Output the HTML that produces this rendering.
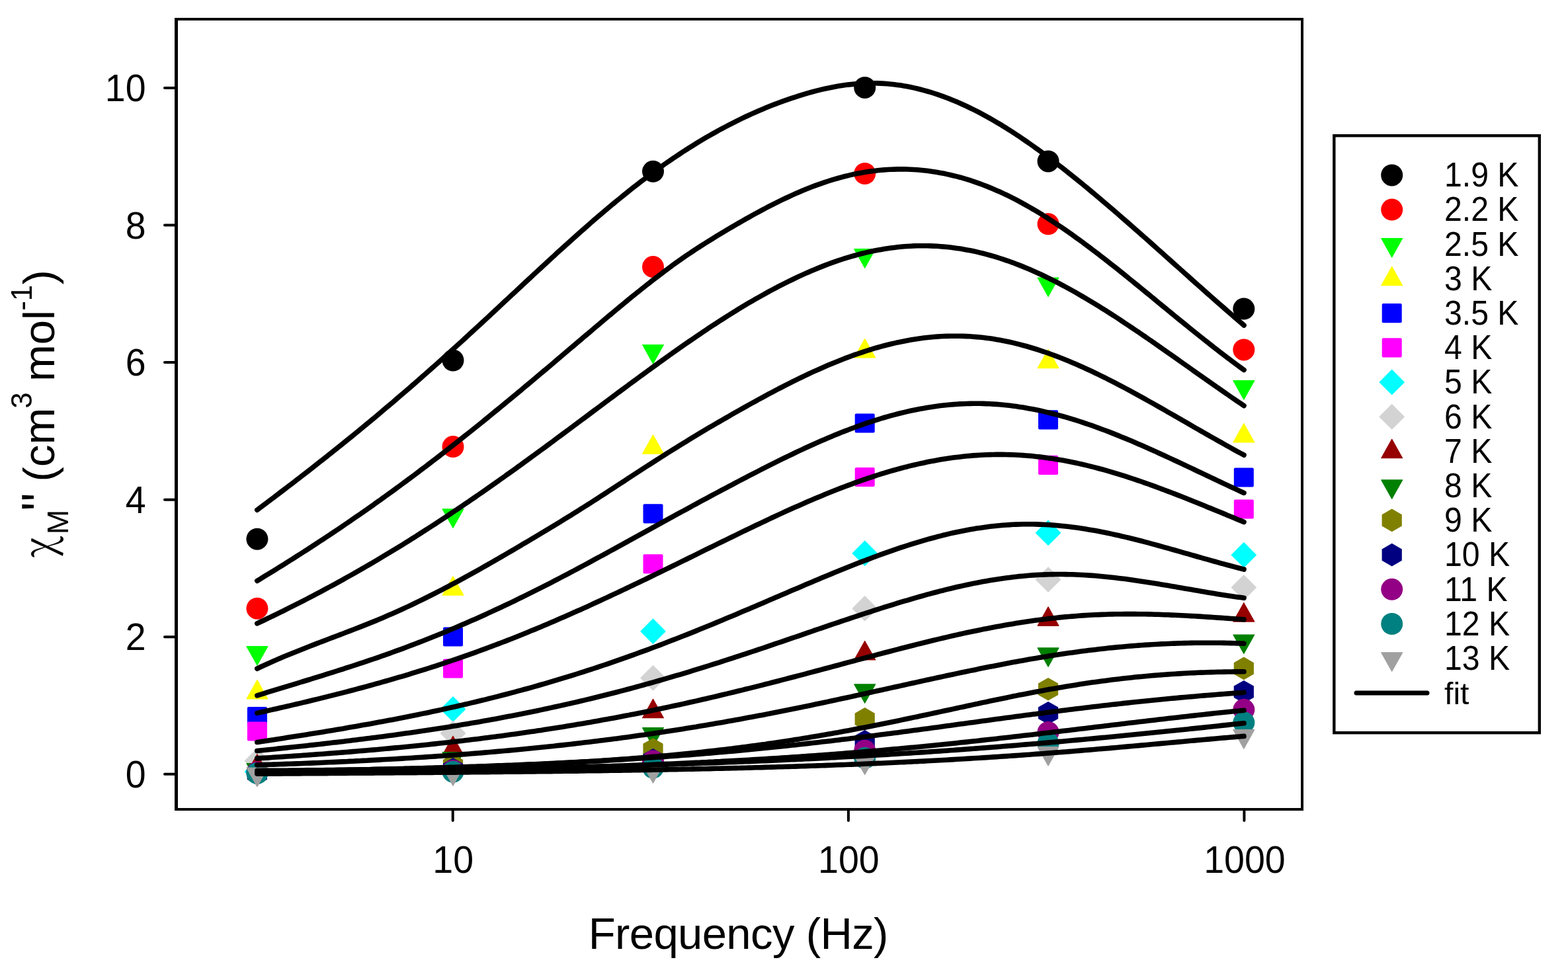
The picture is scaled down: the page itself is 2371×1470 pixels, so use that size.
<!DOCTYPE html>
<html><head><meta charset="utf-8"><title>chi M double prime vs frequency</title>
<style>html,body{margin:0;padding:0;background:#fff;}svg{display:block;}</style>
</head><body>
<svg xmlns="http://www.w3.org/2000/svg" width="2371" height="1470" viewBox="0 0 2371 1470">
<rect x="0" y="0" width="2371" height="1470" fill="#fff"/>
<g>
<circle cx="388.9" cy="815.2" r="16.5" fill="#000000"/>
<circle cx="685.0" cy="545.0" r="16.5" fill="#000000"/>
<circle cx="987.5" cy="259.3" r="16.5" fill="#000000"/>
<circle cx="1307.7" cy="132.4" r="16.5" fill="#000000"/>
<circle cx="1585.0" cy="243.9" r="16.5" fill="#000000"/>
<circle cx="1880.8" cy="467.1" r="16.5" fill="#000000"/>
<circle cx="388.9" cy="920.2" r="16.5" fill="#ff0000"/>
<circle cx="685.0" cy="675.6" r="16.5" fill="#ff0000"/>
<circle cx="987.5" cy="403.6" r="16.5" fill="#ff0000"/>
<circle cx="1307.7" cy="262.5" r="16.5" fill="#ff0000"/>
<circle cx="1585.0" cy="338.8" r="16.5" fill="#ff0000"/>
<circle cx="1880.8" cy="528.9" r="16.5" fill="#ff0000"/>
<path d="M373.0,977.6H404.8L388.9,1006.0Z" fill="#00ff00" stroke="#00ff00" stroke-width="1.2" stroke-linejoin="round"/>
<path d="M669.1,769.9H700.9L685.0,798.3Z" fill="#00ff00" stroke="#00ff00" stroke-width="1.2" stroke-linejoin="round"/>
<path d="M971.6,521.5H1003.4L987.5,549.9Z" fill="#00ff00" stroke="#00ff00" stroke-width="1.2" stroke-linejoin="round"/>
<path d="M1291.8,376.7H1323.6L1307.7,405.1Z" fill="#00ff00" stroke="#00ff00" stroke-width="1.2" stroke-linejoin="round"/>
<path d="M1569.1,420.0H1600.9L1585.0,448.4Z" fill="#00ff00" stroke="#00ff00" stroke-width="1.2" stroke-linejoin="round"/>
<path d="M1864.9,575.7H1896.7L1880.8,604.1Z" fill="#00ff00" stroke="#00ff00" stroke-width="1.2" stroke-linejoin="round"/>
<path d="M373.0,1057.0H404.8L388.9,1028.6Z" fill="#ffff00" stroke="#ffff00" stroke-width="1.2" stroke-linejoin="round"/>
<path d="M669.1,900.1H700.9L685.0,871.7Z" fill="#ffff00" stroke="#ffff00" stroke-width="1.2" stroke-linejoin="round"/>
<path d="M971.6,686.2H1003.4L987.5,657.8Z" fill="#ffff00" stroke="#ffff00" stroke-width="1.2" stroke-linejoin="round"/>
<path d="M1291.8,540.9H1323.6L1307.7,512.5Z" fill="#ffff00" stroke="#ffff00" stroke-width="1.2" stroke-linejoin="round"/>
<path d="M1569.1,556.7H1600.9L1585.0,528.3Z" fill="#ffff00" stroke="#ffff00" stroke-width="1.2" stroke-linejoin="round"/>
<path d="M1864.9,669.0H1896.7L1880.8,640.6Z" fill="#ffff00" stroke="#ffff00" stroke-width="1.2" stroke-linejoin="round"/>
<rect x="373.9" y="1068.9" width="30" height="29.2" rx="2" fill="#0000ff"/>
<rect x="670.0" y="948.4" width="30" height="29.2" rx="2" fill="#0000ff"/>
<rect x="972.5" y="762.2" width="30" height="29.2" rx="2" fill="#0000ff"/>
<rect x="1292.7" y="625.4" width="30" height="29.2" rx="2" fill="#0000ff"/>
<rect x="1570.0" y="620.3" width="30" height="29.2" rx="2" fill="#0000ff"/>
<rect x="1865.8" y="707.4" width="30" height="29.2" rx="2" fill="#0000ff"/>
<rect x="373.9" y="1091.4" width="30" height="29.2" rx="2" fill="#ff00ff"/>
<rect x="670.0" y="996.4" width="30" height="29.2" rx="2" fill="#ff00ff"/>
<rect x="972.5" y="838.2" width="30" height="29.2" rx="2" fill="#ff00ff"/>
<rect x="1292.7" y="706.9" width="30" height="29.2" rx="2" fill="#ff00ff"/>
<rect x="1570.0" y="688.7" width="30" height="29.2" rx="2" fill="#ff00ff"/>
<rect x="1865.8" y="755.4" width="30" height="29.2" rx="2" fill="#ff00ff"/>
<path d="M388.9,1148.4L407.5,1167.0L388.9,1185.6L370.3,1167.0Z" fill="#00ffff" stroke="#00ffff" stroke-width="1.2" stroke-linejoin="round"/>
<path d="M685.0,1054.0L703.6,1072.6L685.0,1091.2L666.4,1072.6Z" fill="#00ffff" stroke="#00ffff" stroke-width="1.2" stroke-linejoin="round"/>
<path d="M987.5,936.2L1006.1,954.8L987.5,973.4L968.9,954.8Z" fill="#00ffff" stroke="#00ffff" stroke-width="1.2" stroke-linejoin="round"/>
<path d="M1307.7,818.2L1326.3,836.8L1307.7,855.4L1289.1,836.8Z" fill="#00ffff" stroke="#00ffff" stroke-width="1.2" stroke-linejoin="round"/>
<path d="M1585.0,787.2L1603.6,805.8L1585.0,824.4L1566.4,805.8Z" fill="#00ffff" stroke="#00ffff" stroke-width="1.2" stroke-linejoin="round"/>
<path d="M1880.8,820.7L1899.4,839.3L1880.8,857.9L1862.2,839.3Z" fill="#00ffff" stroke="#00ffff" stroke-width="1.2" stroke-linejoin="round"/>
<path d="M388.9,1132.1L407.5,1150.7L388.9,1169.3L370.3,1150.7Z" fill="#d3d3d3" stroke="#d3d3d3" stroke-width="1.2" stroke-linejoin="round"/>
<path d="M685.0,1090.4L703.6,1109.0L685.0,1127.6L666.4,1109.0Z" fill="#d3d3d3" stroke="#d3d3d3" stroke-width="1.2" stroke-linejoin="round"/>
<path d="M987.5,1006.7L1006.1,1025.3L987.5,1043.9L968.9,1025.3Z" fill="#d3d3d3" stroke="#d3d3d3" stroke-width="1.2" stroke-linejoin="round"/>
<path d="M1307.7,901.7L1326.3,920.3L1307.7,938.9L1289.1,920.3Z" fill="#d3d3d3" stroke="#d3d3d3" stroke-width="1.2" stroke-linejoin="round"/>
<path d="M1585.0,858.0L1603.6,876.6L1585.0,895.2L1566.4,876.6Z" fill="#d3d3d3" stroke="#d3d3d3" stroke-width="1.2" stroke-linejoin="round"/>
<path d="M1880.8,869.8L1899.4,888.4L1880.8,907.0L1862.2,888.4Z" fill="#d3d3d3" stroke="#d3d3d3" stroke-width="1.2" stroke-linejoin="round"/>
<path d="M373.0,1169.1H404.8L388.9,1140.7Z" fill="#960000" stroke="#960000" stroke-width="1.2" stroke-linejoin="round"/>
<path d="M669.1,1141.7H700.9L685.0,1113.3Z" fill="#960000" stroke="#960000" stroke-width="1.2" stroke-linejoin="round"/>
<path d="M971.6,1085.7H1003.4L987.5,1057.3Z" fill="#960000" stroke="#960000" stroke-width="1.2" stroke-linejoin="round"/>
<path d="M1291.8,997.9H1323.6L1307.7,969.5Z" fill="#960000" stroke="#960000" stroke-width="1.2" stroke-linejoin="round"/>
<path d="M1569.1,946.3H1600.9L1585.0,917.9Z" fill="#960000" stroke="#960000" stroke-width="1.2" stroke-linejoin="round"/>
<path d="M1864.9,940.1H1896.7L1880.8,911.7Z" fill="#960000" stroke="#960000" stroke-width="1.2" stroke-linejoin="round"/>
<path d="M373.0,1154.6H404.8L388.9,1183.0Z" fill="#008000" stroke="#008000" stroke-width="1.2" stroke-linejoin="round"/>
<path d="M669.1,1137.6H700.9L685.0,1166.0Z" fill="#008000" stroke="#008000" stroke-width="1.2" stroke-linejoin="round"/>
<path d="M971.6,1100.7H1003.4L987.5,1129.1Z" fill="#008000" stroke="#008000" stroke-width="1.2" stroke-linejoin="round"/>
<path d="M1291.8,1034.9H1323.6L1307.7,1063.3Z" fill="#008000" stroke="#008000" stroke-width="1.2" stroke-linejoin="round"/>
<path d="M1569.1,979.9H1600.9L1585.0,1008.3Z" fill="#008000" stroke="#008000" stroke-width="1.2" stroke-linejoin="round"/>
<path d="M1864.9,960.0H1896.7L1880.8,988.4Z" fill="#008000" stroke="#008000" stroke-width="1.2" stroke-linejoin="round"/>
<path d="M388.9,1152.7L404.0,1161.3L404.0,1178.7L388.9,1187.3L373.8,1178.7L373.8,1161.3Z" fill="#808000"/>
<path d="M685.0,1140.3L700.1,1148.9L700.1,1166.2L685.0,1174.9L669.9,1166.2L669.9,1148.9Z" fill="#808000"/>
<path d="M987.5,1116.2L1002.6,1124.8L1002.6,1142.2L987.5,1150.8L972.4,1142.2L972.4,1124.8Z" fill="#808000"/>
<path d="M1307.7,1070.1L1322.8,1078.8L1322.8,1096.1L1307.7,1104.7L1292.6,1096.1L1292.6,1078.8Z" fill="#808000"/>
<path d="M1585.0,1025.0L1600.1,1033.6L1600.1,1051.0L1585.0,1059.6L1569.9,1051.0L1569.9,1033.6Z" fill="#808000"/>
<path d="M1880.8,993.6L1895.9,1002.2L1895.9,1019.5L1880.8,1028.2L1865.7,1019.5L1865.7,1002.2Z" fill="#808000"/>
<path d="M388.9,1152.7L404.0,1161.3L404.0,1178.7L388.9,1187.3L373.8,1178.7L373.8,1161.3Z" fill="#000080"/>
<path d="M685.0,1146.1L700.1,1154.8L700.1,1172.1L685.0,1180.7L669.9,1172.1L669.9,1154.8Z" fill="#000080"/>
<path d="M987.5,1131.9L1002.6,1140.5L1002.6,1157.9L987.5,1166.5L972.4,1157.9L972.4,1140.5Z" fill="#000080"/>
<path d="M1307.7,1103.9L1322.8,1112.5L1322.8,1129.9L1307.7,1138.5L1292.6,1129.9L1292.6,1112.5Z" fill="#000080"/>
<path d="M1585.0,1060.9L1600.1,1069.5L1600.1,1086.9L1585.0,1095.5L1569.9,1086.9L1569.9,1069.5Z" fill="#000080"/>
<path d="M1880.8,1029.0L1895.9,1037.6L1895.9,1055.0L1880.8,1063.6L1865.7,1055.0L1865.7,1037.6Z" fill="#000080"/>
<circle cx="388.9" cy="1168.0" r="16.5" fill="#930085"/>
<circle cx="685.0" cy="1165.5" r="16.5" fill="#930085"/>
<circle cx="987.5" cy="1151.0" r="16.5" fill="#930085"/>
<circle cx="1307.7" cy="1135.2" r="16.5" fill="#930085"/>
<circle cx="1585.0" cy="1107.4" r="16.5" fill="#930085"/>
<circle cx="1880.8" cy="1073.3" r="16.5" fill="#930085"/>
<circle cx="388.9" cy="1169.5" r="16.5" fill="#008080"/>
<circle cx="685.0" cy="1167.2" r="16.5" fill="#008080"/>
<circle cx="987.5" cy="1161.0" r="16.5" fill="#008080"/>
<circle cx="1307.7" cy="1146.5" r="16.5" fill="#008080"/>
<circle cx="1585.0" cy="1124.0" r="16.5" fill="#008080"/>
<circle cx="1880.8" cy="1092.7" r="16.5" fill="#008080"/>
<path d="M373.0,1161.2H404.8L388.9,1189.6Z" fill="#a0a0a0" stroke="#a0a0a0" stroke-width="1.2" stroke-linejoin="round"/>
<path d="M669.1,1159.8H700.9L685.0,1188.2Z" fill="#a0a0a0" stroke="#a0a0a0" stroke-width="1.2" stroke-linejoin="round"/>
<path d="M971.6,1155.9H1003.4L987.5,1184.3Z" fill="#a0a0a0" stroke="#a0a0a0" stroke-width="1.2" stroke-linejoin="round"/>
<path d="M1291.8,1143.0H1323.6L1307.7,1171.4Z" fill="#a0a0a0" stroke="#a0a0a0" stroke-width="1.2" stroke-linejoin="round"/>
<path d="M1569.1,1129.6H1600.9L1585.0,1158.0Z" fill="#a0a0a0" stroke="#a0a0a0" stroke-width="1.2" stroke-linejoin="round"/>
<path d="M1864.9,1103.7H1896.7L1880.8,1132.1Z" fill="#a0a0a0" stroke="#a0a0a0" stroke-width="1.2" stroke-linejoin="round"/>
</g>
<g fill="none" stroke="#000" stroke-width="7.6" stroke-linecap="round" stroke-linejoin="round">
<path d="M388.8,771.2 393.8,767.5 398.8,763.7 403.8,760.0 408.8,756.2 413.8,752.5 418.7,748.7 423.7,744.9 428.7,741.1 433.7,737.3 438.7,733.5 443.7,729.7 448.7,725.8 453.7,722.0 458.7,718.1 463.7,714.2 468.7,710.4 473.6,706.5 478.6,702.5 483.6,698.6 488.6,694.7 493.6,690.7 498.6,686.8 503.6,682.8 508.6,678.8 513.6,674.8 518.6,670.8 523.5,666.8 528.5,662.7 533.5,658.7 538.5,654.6 543.5,650.5 548.5,646.4 553.5,642.3 558.5,638.1 563.5,634.0 568.5,629.8 573.5,625.6 578.4,621.4 583.4,617.2 588.4,613.0 593.4,608.8 598.4,604.5 603.4,600.2 608.4,595.9 613.4,591.6 618.4,587.3 623.4,583.0 628.4,578.6 633.3,574.3 638.3,569.9 643.3,565.5 648.3,561.1 653.3,556.7 658.3,552.2 663.3,547.8 668.3,543.3 673.3,538.8 678.3,534.3 683.2,529.8 688.2,525.3 693.2,520.7 698.2,516.2 703.2,511.6 708.2,507.0 713.2,502.4 718.2,497.8 723.2,493.2 728.2,488.6 733.2,484.0 738.1,479.4 743.1,474.7 748.1,470.1 753.1,465.4 758.1,460.8 763.1,456.1 768.1,451.5 773.1,446.8 778.1,442.2 783.1,437.5 788.1,432.9 793.0,428.2 798.0,423.6 803.0,418.9 808.0,414.3 813.0,409.7 818.0,405.1 823.0,400.4 828.0,395.9 833.0,391.3 838.0,386.7 842.9,382.1 847.9,377.6 852.9,373.1 857.9,368.6 862.9,364.1 867.9,359.6 872.9,355.1 877.9,350.7 882.9,346.3 887.9,341.9 892.9,337.5 897.8,333.2 902.8,328.9 907.8,324.6 912.8,320.4 917.8,316.1 922.8,311.9 927.8,307.8 932.8,303.6 937.8,299.6 942.8,295.5 947.8,291.5 952.7,287.5 957.7,283.6 962.7,279.7 967.7,275.8 972.7,272.0 977.7,268.2 982.7,264.5 987.7,260.8 992.7,257.2 997.7,253.6 1002.6,250.0 1007.6,246.5 1012.6,243.1 1017.6,239.7 1022.6,236.3 1027.6,233.0 1032.6,229.7 1037.6,226.5 1042.6,223.3 1047.6,220.2 1052.6,217.1 1057.5,214.1 1062.5,211.1 1067.5,208.1 1072.5,205.2 1077.5,202.4 1082.5,199.6 1087.5,196.8 1092.5,194.1 1097.5,191.5 1102.5,188.8 1107.5,186.3 1112.4,183.8 1117.4,181.3 1122.4,178.9 1127.4,176.5 1132.4,174.2 1137.4,171.9 1142.4,169.7 1147.4,167.5 1152.4,165.4 1157.4,163.3 1162.3,161.3 1167.3,159.3 1172.3,157.4 1177.3,155.5 1182.3,153.6 1187.3,151.9 1192.3,150.1 1197.3,148.4 1202.3,146.8 1207.3,145.2 1212.3,143.6 1217.2,142.1 1222.2,140.6 1227.2,139.3 1232.2,137.9 1237.2,136.6 1242.2,135.4 1247.2,134.3 1252.2,133.2 1257.2,132.2 1262.2,131.2 1267.2,130.3 1272.1,129.5 1277.1,128.8 1282.1,128.1 1287.1,127.6 1292.1,127.1 1297.1,126.6 1302.1,126.3 1307.1,126.0 1312.1,125.9 1317.1,125.8 1322.0,125.8 1327.0,125.9 1332.0,126.1 1337.0,126.4 1342.0,126.7 1347.0,127.2 1352.0,127.7 1357.0,128.4 1362.0,129.1 1367.0,129.9 1372.0,130.8 1376.9,131.8 1381.9,132.9 1386.9,134.0 1391.9,135.3 1396.9,136.6 1401.9,138.0 1406.9,139.4 1411.9,141.0 1416.9,142.6 1421.9,144.3 1426.9,146.1 1431.8,148.0 1436.8,149.9 1441.8,152.0 1446.8,154.1 1451.8,156.2 1456.8,158.5 1461.8,160.8 1466.8,163.2 1471.8,165.6 1476.8,168.1 1481.7,170.7 1486.7,173.4 1491.7,176.1 1496.7,178.9 1501.7,181.7 1506.7,184.7 1511.7,187.6 1516.7,190.7 1521.7,193.8 1526.7,196.9 1531.7,200.2 1536.6,203.4 1541.6,206.7 1546.6,210.1 1551.6,213.5 1556.6,217.0 1561.6,220.5 1566.6,224.1 1571.6,227.7 1576.6,231.4 1581.6,235.1 1586.6,238.8 1591.5,242.6 1596.5,246.4 1601.5,250.2 1606.5,254.1 1611.5,258.0 1616.5,262.0 1621.5,266.0 1626.5,270.0 1631.5,274.0 1636.5,278.1 1641.4,282.2 1646.4,286.3 1651.4,290.5 1656.4,294.6 1661.4,298.8 1666.4,303.1 1671.4,307.3 1676.4,311.6 1681.4,315.8 1686.4,320.1 1691.4,324.5 1696.3,328.8 1701.3,333.2 1706.3,337.5 1711.3,341.9 1716.3,346.3 1721.3,350.7 1726.3,355.1 1731.3,359.5 1736.3,363.9 1741.3,368.4 1746.3,372.8 1751.2,377.3 1756.2,381.7 1761.2,386.2 1766.2,390.6 1771.2,395.1 1776.2,399.6 1781.2,404.0 1786.2,408.5 1791.2,413.0 1796.2,417.4 1801.1,421.9 1806.1,426.3 1811.1,430.8 1816.1,435.2 1821.1,439.6 1826.1,444.1 1831.1,448.5 1836.1,452.9 1841.1,457.3 1846.1,461.7 1851.1,466.0 1856.0,470.4 1861.0,474.7 1866.0,479.1 1871.0,483.4 1876.0,487.7 1881.0,492.0"/>
<path d="M388.8,878.4 393.8,875.4 398.8,872.3 403.8,869.3 408.8,866.2 413.8,863.2 418.7,860.1 423.7,857.0 428.7,853.9 433.7,850.8 438.7,847.6 443.7,844.5 448.7,841.3 453.7,838.1 458.7,834.9 463.7,831.7 468.7,828.5 473.6,825.3 478.6,822.0 483.6,818.7 488.6,815.5 493.6,812.2 498.6,808.8 503.6,805.5 508.6,802.2 513.6,798.8 518.6,795.4 523.5,792.0 528.5,788.6 533.5,785.2 538.5,781.7 543.5,778.3 548.5,774.8 553.5,771.3 558.5,767.8 563.5,764.3 568.5,760.7 573.5,757.2 578.4,753.6 583.4,750.0 588.4,746.4 593.4,742.8 598.4,739.2 603.4,735.5 608.4,731.8 613.4,728.1 618.4,724.4 623.4,720.7 628.4,717.0 633.3,713.2 638.3,709.4 643.3,705.7 648.3,701.9 653.3,698.0 658.3,694.2 663.3,690.4 668.3,686.5 673.3,682.6 678.3,678.7 683.2,674.8 688.2,670.9 693.2,667.0 698.2,663.0 703.2,659.1 708.2,655.1 713.2,651.1 718.2,647.1 723.2,643.1 728.2,639.1 733.2,635.0 738.1,631.0 743.1,626.9 748.1,622.8 753.1,618.7 758.1,614.6 763.1,610.5 768.1,606.4 773.1,602.3 778.1,598.1 783.1,594.0 788.1,589.8 793.0,585.7 798.0,581.5 803.0,577.3 808.0,573.1 813.0,568.9 818.0,564.7 823.0,560.5 828.0,556.3 833.0,552.1 838.0,547.9 842.9,543.6 847.9,539.4 852.9,535.2 857.9,530.9 862.9,526.7 867.9,522.5 872.9,518.2 877.9,514.0 882.9,509.7 887.9,505.5 892.9,501.3 897.8,497.0 902.8,492.8 907.8,488.6 912.8,484.4 917.8,480.2 922.8,476.0 927.8,471.8 932.8,467.6 937.8,463.5 942.8,459.4 947.8,455.3 952.7,451.2 957.7,447.1 962.7,443.1 967.7,439.1 972.7,435.1 977.7,431.1 982.7,427.2 987.7,423.3 992.7,419.5 997.7,415.7 1002.6,411.9 1007.6,408.2 1012.6,404.5 1017.6,400.8 1022.6,397.2 1027.6,393.7 1032.6,390.2 1037.6,386.7 1042.6,383.4 1047.6,380.0 1052.6,376.7 1057.5,373.5 1062.5,370.3 1067.5,367.1 1072.5,364.0 1077.5,360.9 1082.5,357.8 1087.5,354.8 1092.5,351.8 1097.5,348.8 1102.5,345.8 1107.5,342.9 1112.4,340.0 1117.4,337.1 1122.4,334.2 1127.4,331.4 1132.4,328.6 1137.4,325.8 1142.4,323.0 1147.4,320.3 1152.4,317.6 1157.4,315.0 1162.3,312.4 1167.3,309.8 1172.3,307.3 1177.3,304.8 1182.3,302.4 1187.3,300.0 1192.3,297.7 1197.3,295.4 1202.3,293.1 1207.3,291.0 1212.3,288.8 1217.2,286.8 1222.2,284.8 1227.2,282.8 1232.2,280.9 1237.2,279.1 1242.2,277.3 1247.2,275.6 1252.2,274.0 1257.2,272.4 1262.2,270.9 1267.2,269.5 1272.1,268.1 1277.1,266.8 1282.1,265.6 1287.1,264.4 1292.1,263.3 1297.1,262.3 1302.1,261.4 1307.1,260.5 1312.1,259.7 1317.1,259.0 1322.0,258.4 1327.0,257.8 1332.0,257.3 1337.0,256.9 1342.0,256.5 1347.0,256.2 1352.0,256.1 1357.0,255.9 1362.0,255.9 1367.0,255.9 1372.0,256.0 1376.9,256.2 1381.9,256.5 1386.9,256.8 1391.9,257.2 1396.9,257.7 1401.9,258.3 1406.9,259.0 1411.9,259.7 1416.9,260.5 1421.9,261.4 1426.9,262.3 1431.8,263.4 1436.8,264.5 1441.8,265.7 1446.8,266.9 1451.8,268.2 1456.8,269.7 1461.8,271.1 1466.8,272.7 1471.8,274.3 1476.8,276.1 1481.7,277.8 1486.7,279.7 1491.7,281.6 1496.7,283.6 1501.7,285.7 1506.7,287.9 1511.7,290.1 1516.7,292.4 1521.7,294.7 1526.7,297.2 1531.7,299.7 1536.6,302.2 1541.6,304.9 1546.6,307.6 1551.6,310.4 1556.6,313.2 1561.6,316.1 1566.6,319.0 1571.6,322.1 1576.6,325.1 1581.6,328.3 1586.6,331.5 1591.5,334.7 1596.5,338.0 1601.5,341.3 1606.5,344.7 1611.5,348.2 1616.5,351.7 1621.5,355.2 1626.5,358.8 1631.5,362.4 1636.5,366.0 1641.4,369.7 1646.4,373.4 1651.4,377.2 1656.4,381.0 1661.4,384.8 1666.4,388.7 1671.4,392.5 1676.4,396.5 1681.4,400.4 1686.4,404.3 1691.4,408.3 1696.3,412.3 1701.3,416.3 1706.3,420.4 1711.3,424.4 1716.3,428.5 1721.3,432.5 1726.3,436.6 1731.3,440.7 1736.3,444.8 1741.3,448.9 1746.3,453.0 1751.2,457.1 1756.2,461.2 1761.2,465.3 1766.2,469.4 1771.2,473.5 1776.2,477.6 1781.2,481.7 1786.2,485.7 1791.2,489.8 1796.2,493.9 1801.1,497.9 1806.1,501.9 1811.1,505.9 1816.1,509.9 1821.1,513.9 1826.1,517.8 1831.1,521.8 1836.1,525.7 1841.1,529.5 1846.1,533.4 1851.1,537.2 1856.0,541.0 1861.0,544.8 1866.0,548.5 1871.0,552.2 1876.0,555.8 1881.0,559.5"/>
<path d="M388.8,942.9 393.8,940.5 398.8,938.2 403.8,935.8 408.8,933.4 413.8,931.0 418.7,928.6 423.7,926.1 428.7,923.7 433.7,921.2 438.7,918.7 443.7,916.2 448.7,913.7 453.7,911.2 458.7,908.6 463.7,906.0 468.7,903.4 473.6,900.8 478.6,898.2 483.6,895.6 488.6,892.9 493.6,890.2 498.6,887.5 503.6,884.8 508.6,882.1 513.6,879.4 518.6,876.6 523.5,873.8 528.5,871.0 533.5,868.2 538.5,865.4 543.5,862.5 548.5,859.6 553.5,856.8 558.5,853.9 563.5,850.9 568.5,848.0 573.5,845.0 578.4,842.1 583.4,839.1 588.4,836.1 593.4,833.0 598.4,830.0 603.4,826.9 608.4,823.9 613.4,820.8 618.4,817.7 623.4,814.5 628.4,811.4 633.3,808.2 638.3,805.0 643.3,801.8 648.3,798.6 653.3,795.4 658.3,792.2 663.3,788.9 668.3,785.6 673.3,782.3 678.3,779.0 683.2,775.7 688.2,772.3 693.2,769.0 698.2,765.6 703.2,762.2 708.2,758.8 713.2,755.4 718.2,752.0 723.2,748.5 728.2,745.1 733.2,741.6 738.1,738.1 743.1,734.6 748.1,731.1 753.1,727.6 758.1,724.0 763.1,720.5 768.1,716.9 773.1,713.3 778.1,709.8 783.1,706.2 788.1,702.6 793.0,698.9 798.0,695.3 803.0,691.7 808.0,688.0 813.0,684.4 818.0,680.7 823.0,677.1 828.0,673.4 833.0,669.7 838.0,666.0 842.9,662.3 847.9,658.6 852.9,654.9 857.9,651.2 862.9,647.5 867.9,643.8 872.9,640.0 877.9,636.3 882.9,632.6 887.9,628.9 892.9,625.1 897.8,621.4 902.8,617.7 907.8,614.0 912.8,610.2 917.8,606.5 922.8,602.8 927.8,599.1 932.8,595.3 937.8,591.6 942.8,587.9 947.8,584.2 952.7,580.5 957.7,576.9 962.7,573.2 967.7,569.5 972.7,565.9 977.7,562.2 982.7,558.6 987.7,554.9 992.7,551.3 997.7,547.7 1002.6,544.1 1007.6,540.6 1012.6,537.0 1017.6,533.4 1022.6,529.9 1027.6,526.4 1032.6,522.9 1037.6,519.4 1042.6,516.0 1047.6,512.6 1052.6,509.2 1057.5,505.8 1062.5,502.4 1067.5,499.1 1072.5,495.7 1077.5,492.4 1082.5,489.2 1087.5,485.9 1092.5,482.7 1097.5,479.6 1102.5,476.4 1107.5,473.3 1112.4,470.2 1117.4,467.1 1122.4,464.1 1127.4,461.1 1132.4,458.1 1137.4,455.2 1142.4,452.3 1147.4,449.5 1152.4,446.7 1157.4,443.9 1162.3,441.2 1167.3,438.5 1172.3,435.8 1177.3,433.2 1182.3,430.6 1187.3,428.1 1192.3,425.6 1197.3,423.2 1202.3,420.8 1207.3,418.4 1212.3,416.1 1217.2,413.9 1222.2,411.7 1227.2,409.5 1232.2,407.4 1237.2,405.4 1242.2,403.4 1247.2,401.4 1252.2,399.5 1257.2,397.7 1262.2,395.9 1267.2,394.2 1272.1,392.5 1277.1,390.9 1282.1,389.4 1287.1,387.9 1292.1,386.5 1297.1,385.1 1302.1,383.8 1307.1,382.6 1312.1,381.4 1317.1,380.3 1322.0,379.2 1327.0,378.3 1332.0,377.4 1337.0,376.5 1342.0,375.7 1347.0,375.0 1352.0,374.4 1357.0,373.8 1362.0,373.3 1367.0,372.8 1372.0,372.5 1376.9,372.2 1381.9,371.9 1386.9,371.8 1391.9,371.7 1396.9,371.7 1401.9,371.7 1406.9,371.9 1411.9,372.1 1416.9,372.3 1421.9,372.7 1426.9,373.1 1431.8,373.5 1436.8,374.1 1441.8,374.7 1446.8,375.4 1451.8,376.1 1456.8,377.0 1461.8,377.9 1466.8,378.8 1471.8,379.8 1476.8,380.9 1481.7,382.1 1486.7,383.3 1491.7,384.6 1496.7,386.0 1501.7,387.4 1506.7,388.9 1511.7,390.5 1516.7,392.1 1521.7,393.8 1526.7,395.5 1531.7,397.3 1536.6,399.2 1541.6,401.1 1546.6,403.1 1551.6,405.2 1556.6,407.3 1561.6,409.5 1566.6,411.7 1571.6,414.0 1576.6,416.3 1581.6,418.7 1586.6,421.1 1591.5,423.6 1596.5,426.1 1601.5,428.7 1606.5,431.4 1611.5,434.0 1616.5,436.8 1621.5,439.5 1626.5,442.3 1631.5,445.2 1636.5,448.1 1641.4,451.0 1646.4,454.0 1651.4,457.0 1656.4,460.0 1661.4,463.1 1666.4,466.2 1671.4,469.3 1676.4,472.5 1681.4,475.7 1686.4,478.9 1691.4,482.2 1696.3,485.5 1701.3,488.8 1706.3,492.1 1711.3,495.5 1716.3,498.8 1721.3,502.2 1726.3,505.6 1731.3,509.0 1736.3,512.5 1741.3,515.9 1746.3,519.4 1751.2,522.9 1756.2,526.4 1761.2,529.9 1766.2,533.4 1771.2,536.9 1776.2,540.4 1781.2,543.9 1786.2,547.5 1791.2,551.0 1796.2,554.5 1801.1,558.0 1806.1,561.6 1811.1,565.1 1816.1,568.6 1821.1,572.1 1826.1,575.7 1831.1,579.2 1836.1,582.7 1841.1,586.1 1846.1,589.6 1851.1,593.1 1856.0,596.5 1861.0,600.0 1866.0,603.4 1871.0,606.8 1876.0,610.2 1881.0,613.6"/>
<path d="M388.8,1011.2 393.8,1008.8 398.8,1006.5 403.8,1004.2 408.8,1002.0 413.8,999.8 418.7,997.6 423.7,995.5 428.7,993.3 433.7,991.3 438.7,989.2 443.7,987.2 448.7,985.2 453.7,983.2 458.7,981.2 463.7,979.2 468.7,977.3 473.6,975.4 478.6,973.4 483.6,971.5 488.6,969.6 493.6,967.7 498.6,965.8 503.6,963.9 508.6,962.0 513.6,960.1 518.6,958.2 523.5,956.3 528.5,954.4 533.5,952.5 538.5,950.5 543.5,948.6 548.5,946.6 553.5,944.6 558.5,942.6 563.5,940.6 568.5,938.6 573.5,936.5 578.4,934.4 583.4,932.3 588.4,930.1 593.4,927.9 598.4,925.7 603.4,923.5 608.4,921.2 613.4,918.9 618.4,916.6 623.4,914.2 628.4,911.8 633.3,909.4 638.3,907.0 643.3,904.5 648.3,902.0 653.3,899.5 658.3,897.0 663.3,894.4 668.3,891.8 673.3,889.2 678.3,886.6 683.2,883.9 688.2,881.3 693.2,878.6 698.2,875.9 703.2,873.1 708.2,870.4 713.2,867.6 718.2,864.9 723.2,862.1 728.2,859.2 733.2,856.4 738.1,853.6 743.1,850.7 748.1,847.9 753.1,845.0 758.1,842.1 763.1,839.2 768.1,836.3 773.1,833.4 778.1,830.4 783.1,827.5 788.1,824.6 793.0,821.6 798.0,818.7 803.0,815.7 808.0,812.7 813.0,809.8 818.0,806.8 823.0,803.8 828.0,800.8 833.0,797.8 838.0,794.7 842.9,791.7 847.9,788.7 852.9,785.6 857.9,782.5 862.9,779.4 867.9,776.3 872.9,773.2 877.9,770.1 882.9,766.9 887.9,763.8 892.9,760.6 897.8,757.4 902.8,754.2 907.8,750.9 912.8,747.7 917.8,744.5 922.8,741.2 927.8,738.0 932.8,734.7 937.8,731.4 942.8,728.2 947.8,724.9 952.7,721.6 957.7,718.4 962.7,715.1 967.7,711.9 972.7,708.6 977.7,705.4 982.7,702.2 987.7,699.0 992.7,695.8 997.7,692.6 1002.6,689.4 1007.6,686.3 1012.6,683.1 1017.6,680.0 1022.6,676.9 1027.6,673.8 1032.6,670.7 1037.6,667.7 1042.6,664.6 1047.6,661.6 1052.6,658.6 1057.5,655.6 1062.5,652.6 1067.5,649.6 1072.5,646.6 1077.5,643.7 1082.5,640.8 1087.5,637.9 1092.5,635.0 1097.5,632.1 1102.5,629.2 1107.5,626.3 1112.4,623.5 1117.4,620.7 1122.4,617.9 1127.4,615.1 1132.4,612.3 1137.4,609.5 1142.4,606.8 1147.4,604.0 1152.4,601.3 1157.4,598.6 1162.3,595.9 1167.3,593.3 1172.3,590.7 1177.3,588.0 1182.3,585.5 1187.3,582.9 1192.3,580.4 1197.3,577.8 1202.3,575.4 1207.3,572.9 1212.3,570.5 1217.2,568.1 1222.2,565.7 1227.2,563.4 1232.2,561.1 1237.2,558.9 1242.2,556.7 1247.2,554.5 1252.2,552.3 1257.2,550.2 1262.2,548.2 1267.2,546.2 1272.1,544.2 1277.1,542.2 1282.1,540.4 1287.1,538.5 1292.1,536.7 1297.1,535.0 1302.1,533.3 1307.1,531.6 1312.1,530.0 1317.1,528.5 1322.0,526.9 1327.0,525.5 1332.0,524.1 1337.0,522.8 1342.0,521.5 1347.0,520.2 1352.0,519.1 1357.0,517.9 1362.0,516.9 1367.0,515.9 1372.0,514.9 1376.9,514.0 1381.9,513.2 1386.9,512.4 1391.9,511.7 1396.9,511.1 1401.9,510.5 1406.9,510.0 1411.9,509.5 1416.9,509.1 1421.9,508.8 1426.9,508.5 1431.8,508.4 1436.8,508.2 1441.8,508.2 1446.8,508.2 1451.8,508.2 1456.8,508.4 1461.8,508.6 1466.8,508.8 1471.8,509.2 1476.8,509.6 1481.7,510.0 1486.7,510.6 1491.7,511.2 1496.7,511.8 1501.7,512.6 1506.7,513.4 1511.7,514.3 1516.7,515.2 1521.7,516.2 1526.7,517.3 1531.7,518.4 1536.6,519.6 1541.6,520.9 1546.6,522.2 1551.6,523.5 1556.6,525.0 1561.6,526.5 1566.6,528.0 1571.6,529.6 1576.6,531.3 1581.6,533.0 1586.6,534.7 1591.5,536.5 1596.5,538.4 1601.5,540.3 1606.5,542.3 1611.5,544.3 1616.5,546.3 1621.5,548.4 1626.5,550.5 1631.5,552.7 1636.5,554.9 1641.4,557.2 1646.4,559.5 1651.4,561.8 1656.4,564.2 1661.4,566.6 1666.4,569.1 1671.4,571.5 1676.4,574.1 1681.4,576.6 1686.4,579.2 1691.4,581.8 1696.3,584.4 1701.3,587.0 1706.3,589.7 1711.3,592.4 1716.3,595.1 1721.3,597.8 1726.3,600.6 1731.3,603.4 1736.3,606.2 1741.3,609.0 1746.3,611.8 1751.2,614.6 1756.2,617.4 1761.2,620.3 1766.2,623.2 1771.2,626.0 1776.2,628.9 1781.2,631.8 1786.2,634.6 1791.2,637.5 1796.2,640.4 1801.1,643.3 1806.1,646.2 1811.1,649.0 1816.1,651.9 1821.1,654.8 1826.1,657.6 1831.1,660.5 1836.1,663.3 1841.1,666.1 1846.1,668.9 1851.1,671.7 1856.0,674.5 1861.0,677.3 1866.0,680.1 1871.0,682.8 1876.0,685.5 1881.0,688.2"/>
<path d="M388.8,1051.8 393.8,1050.3 398.8,1048.8 403.8,1047.2 408.8,1045.7 413.8,1044.2 418.7,1042.7 423.7,1041.2 428.7,1039.6 433.7,1038.1 438.7,1036.6 443.7,1035.1 448.7,1033.6 453.7,1032.0 458.7,1030.5 463.7,1029.0 468.7,1027.5 473.6,1025.9 478.6,1024.4 483.6,1022.8 488.6,1021.3 493.6,1019.7 498.6,1018.2 503.6,1016.6 508.6,1015.0 513.6,1013.4 518.6,1011.8 523.5,1010.2 528.5,1008.6 533.5,1007.0 538.5,1005.4 543.5,1003.7 548.5,1002.1 553.5,1000.4 558.5,998.7 563.5,997.0 568.5,995.3 573.5,993.6 578.4,991.8 583.4,990.1 588.4,988.3 593.4,986.5 598.4,984.7 603.4,982.9 608.4,981.1 613.4,979.2 618.4,977.3 623.4,975.4 628.4,973.5 633.3,971.6 638.3,969.7 643.3,967.7 648.3,965.8 653.3,963.8 658.3,961.8 663.3,959.7 668.3,957.7 673.3,955.7 678.3,953.6 683.2,951.5 688.2,949.4 693.2,947.3 698.2,945.1 703.2,943.0 708.2,940.8 713.2,938.6 718.2,936.4 723.2,934.2 728.2,932.0 733.2,929.7 738.1,927.4 743.1,925.1 748.1,922.8 753.1,920.5 758.1,918.2 763.1,915.8 768.1,913.5 773.1,911.1 778.1,908.7 783.1,906.2 788.1,903.8 793.0,901.4 798.0,898.9 803.0,896.4 808.0,893.9 813.0,891.4 818.0,888.9 823.0,886.4 828.0,883.8 833.0,881.3 838.0,878.7 842.9,876.1 847.9,873.5 852.9,870.9 857.9,868.3 862.9,865.6 867.9,863.0 872.9,860.3 877.9,857.7 882.9,855.0 887.9,852.3 892.9,849.6 897.8,846.9 902.8,844.2 907.8,841.5 912.8,838.8 917.8,836.1 922.8,833.3 927.8,830.6 932.8,827.9 937.8,825.1 942.8,822.4 947.8,819.6 952.7,816.9 957.7,814.1 962.7,811.4 967.7,808.6 972.7,805.9 977.7,803.1 982.7,800.4 987.7,797.6 992.7,794.9 997.7,792.1 1002.6,789.4 1007.6,786.6 1012.6,783.9 1017.6,781.2 1022.6,778.4 1027.6,775.7 1032.6,773.0 1037.6,770.3 1042.6,767.6 1047.6,764.8 1052.6,762.1 1057.5,759.4 1062.5,756.7 1067.5,754.1 1072.5,751.4 1077.5,748.7 1082.5,746.0 1087.5,743.4 1092.5,740.7 1097.5,738.1 1102.5,735.4 1107.5,732.8 1112.4,730.1 1117.4,727.5 1122.4,724.9 1127.4,722.3 1132.4,719.7 1137.4,717.1 1142.4,714.6 1147.4,712.0 1152.4,709.4 1157.4,706.9 1162.3,704.4 1167.3,701.9 1172.3,699.4 1177.3,696.9 1182.3,694.4 1187.3,692.0 1192.3,689.6 1197.3,687.2 1202.3,684.8 1207.3,682.4 1212.3,680.1 1217.2,677.8 1222.2,675.5 1227.2,673.2 1232.2,671.0 1237.2,668.8 1242.2,666.6 1247.2,664.4 1252.2,662.3 1257.2,660.2 1262.2,658.1 1267.2,656.1 1272.1,654.1 1277.1,652.1 1282.1,650.2 1287.1,648.3 1292.1,646.5 1297.1,644.6 1302.1,642.9 1307.1,641.1 1312.1,639.4 1317.1,637.8 1322.0,636.1 1327.0,634.6 1332.0,633.0 1337.0,631.5 1342.0,630.1 1347.0,628.7 1352.0,627.4 1357.0,626.0 1362.0,624.8 1367.0,623.6 1372.0,622.4 1376.9,621.3 1381.9,620.2 1386.9,619.2 1391.9,618.3 1396.9,617.4 1401.9,616.5 1406.9,615.7 1411.9,614.9 1416.9,614.3 1421.9,613.6 1426.9,613.0 1431.8,612.5 1436.8,612.0 1441.8,611.6 1446.8,611.2 1451.8,610.9 1456.8,610.7 1461.8,610.5 1466.8,610.4 1471.8,610.3 1476.8,610.3 1481.7,610.3 1486.7,610.4 1491.7,610.6 1496.7,610.8 1501.7,611.1 1506.7,611.4 1511.7,611.8 1516.7,612.3 1521.7,612.8 1526.7,613.3 1531.7,614.0 1536.6,614.6 1541.6,615.4 1546.6,616.1 1551.6,617.0 1556.6,617.9 1561.6,618.8 1566.6,619.8 1571.6,620.8 1576.6,621.9 1581.6,623.1 1586.6,624.3 1591.5,625.5 1596.5,626.8 1601.5,628.1 1606.5,629.5 1611.5,630.9 1616.5,632.4 1621.5,633.9 1626.5,635.4 1631.5,637.0 1636.5,638.6 1641.4,640.3 1646.4,642.0 1651.4,643.7 1656.4,645.5 1661.4,647.3 1666.4,649.2 1671.4,651.0 1676.4,652.9 1681.4,654.9 1686.4,656.9 1691.4,658.9 1696.3,660.9 1701.3,662.9 1706.3,665.0 1711.3,667.1 1716.3,669.2 1721.3,671.4 1726.3,673.6 1731.3,675.8 1736.3,678.0 1741.3,680.2 1746.3,682.4 1751.2,684.7 1756.2,687.0 1761.2,689.3 1766.2,691.6 1771.2,693.9 1776.2,696.2 1781.2,698.5 1786.2,700.9 1791.2,703.2 1796.2,705.6 1801.1,707.9 1806.1,710.3 1811.1,712.7 1816.1,715.0 1821.1,717.4 1826.1,719.8 1831.1,722.1 1836.1,724.5 1841.1,726.9 1846.1,729.2 1851.1,731.6 1856.0,733.9 1861.0,736.2 1866.0,738.5 1871.0,740.9 1876.0,743.2 1881.0,745.4"/>
<path d="M388.8,1078.4 393.8,1077.3 398.8,1076.2 403.8,1075.0 408.8,1073.9 413.8,1072.8 418.7,1071.7 423.7,1070.5 428.7,1069.4 433.7,1068.2 438.7,1067.1 443.7,1065.9 448.7,1064.7 453.7,1063.6 458.7,1062.4 463.7,1061.2 468.7,1060.0 473.6,1058.8 478.6,1057.6 483.6,1056.4 488.6,1055.1 493.6,1053.9 498.6,1052.6 503.6,1051.4 508.6,1050.1 513.6,1048.9 518.6,1047.6 523.5,1046.3 528.5,1045.0 533.5,1043.7 538.5,1042.4 543.5,1041.0 548.5,1039.7 553.5,1038.3 558.5,1037.0 563.5,1035.6 568.5,1034.2 573.5,1032.8 578.4,1031.4 583.4,1030.0 588.4,1028.6 593.4,1027.1 598.4,1025.7 603.4,1024.2 608.4,1022.8 613.4,1021.3 618.4,1019.8 623.4,1018.2 628.4,1016.7 633.3,1015.2 638.3,1013.6 643.3,1012.1 648.3,1010.5 653.3,1008.9 658.3,1007.3 663.3,1005.7 668.3,1004.0 673.3,1002.4 678.3,1000.7 683.2,999.0 688.2,997.3 693.2,995.6 698.2,993.9 703.2,992.2 708.2,990.4 713.2,988.6 718.2,986.8 723.2,985.0 728.2,983.2 733.2,981.4 738.1,979.5 743.1,977.7 748.1,975.8 753.1,973.9 758.1,972.0 763.1,970.1 768.1,968.1 773.1,966.2 778.1,964.2 783.1,962.2 788.1,960.2 793.0,958.2 798.0,956.2 803.0,954.1 808.0,952.1 813.0,950.0 818.0,947.9 823.0,945.8 828.0,943.7 833.0,941.6 838.0,939.4 842.9,937.3 847.9,935.1 852.9,932.9 857.9,930.7 862.9,928.5 867.9,926.3 872.9,924.1 877.9,921.9 882.9,919.6 887.9,917.4 892.9,915.1 897.8,912.8 902.8,910.5 907.8,908.2 912.8,905.9 917.8,903.6 922.8,901.3 927.8,898.9 932.8,896.6 937.8,894.2 942.8,891.9 947.8,889.5 952.7,887.1 957.7,884.8 962.7,882.4 967.7,880.0 972.7,877.6 977.7,875.2 982.7,872.8 987.7,870.3 992.7,867.9 997.7,865.5 1002.6,863.1 1007.6,860.6 1012.6,858.2 1017.6,855.8 1022.6,853.3 1027.6,850.9 1032.6,848.4 1037.6,846.0 1042.6,843.5 1047.6,841.1 1052.6,838.6 1057.5,836.2 1062.5,833.7 1067.5,831.2 1072.5,828.8 1077.5,826.3 1082.5,823.9 1087.5,821.4 1092.5,819.0 1097.5,816.6 1102.5,814.1 1107.5,811.7 1112.4,809.3 1117.4,806.8 1122.4,804.4 1127.4,802.0 1132.4,799.6 1137.4,797.2 1142.4,794.8 1147.4,792.5 1152.4,790.1 1157.4,787.7 1162.3,785.4 1167.3,783.0 1172.3,780.7 1177.3,778.4 1182.3,776.1 1187.3,773.8 1192.3,771.6 1197.3,769.3 1202.3,767.1 1207.3,764.9 1212.3,762.7 1217.2,760.5 1222.2,758.3 1227.2,756.2 1232.2,754.1 1237.2,752.0 1242.2,749.9 1247.2,747.8 1252.2,745.8 1257.2,743.8 1262.2,741.8 1267.2,739.8 1272.1,737.9 1277.1,736.0 1282.1,734.1 1287.1,732.3 1292.1,730.4 1297.1,728.6 1302.1,726.9 1307.1,725.1 1312.1,723.4 1317.1,721.8 1322.0,720.1 1327.0,718.5 1332.0,716.9 1337.0,715.4 1342.0,713.9 1347.0,712.4 1352.0,711.0 1357.0,709.6 1362.0,708.3 1367.0,706.9 1372.0,705.7 1376.9,704.4 1381.9,703.2 1386.9,702.1 1391.9,700.9 1396.9,699.9 1401.9,698.8 1406.9,697.8 1411.9,696.9 1416.9,696.0 1421.9,695.1 1426.9,694.3 1431.8,693.5 1436.8,692.8 1441.8,692.1 1446.8,691.5 1451.8,690.9 1456.8,690.3 1461.8,689.8 1466.8,689.4 1471.8,688.9 1476.8,688.6 1481.7,688.3 1486.7,688.0 1491.7,687.8 1496.7,687.6 1501.7,687.5 1506.7,687.4 1511.7,687.4 1516.7,687.4 1521.7,687.5 1526.7,687.6 1531.7,687.8 1536.6,688.0 1541.6,688.3 1546.6,688.6 1551.6,689.0 1556.6,689.4 1561.6,689.8 1566.6,690.4 1571.6,690.9 1576.6,691.5 1581.6,692.2 1586.6,692.9 1591.5,693.6 1596.5,694.4 1601.5,695.2 1606.5,696.1 1611.5,697.0 1616.5,698.0 1621.5,699.0 1626.5,700.0 1631.5,701.1 1636.5,702.3 1641.4,703.4 1646.4,704.6 1651.4,705.9 1656.4,707.1 1661.4,708.5 1666.4,709.8 1671.4,711.2 1676.4,712.6 1681.4,714.1 1686.4,715.6 1691.4,717.1 1696.3,718.6 1701.3,720.2 1706.3,721.8 1711.3,723.5 1716.3,725.1 1721.3,726.8 1726.3,728.5 1731.3,730.3 1736.3,732.0 1741.3,733.8 1746.3,735.6 1751.2,737.5 1756.2,739.3 1761.2,741.2 1766.2,743.1 1771.2,745.0 1776.2,746.9 1781.2,748.9 1786.2,750.8 1791.2,752.8 1796.2,754.8 1801.1,756.8 1806.1,758.8 1811.1,760.8 1816.1,762.8 1821.1,764.8 1826.1,766.9 1831.1,768.9 1836.1,771.0 1841.1,773.0 1846.1,775.1 1851.1,777.1 1856.0,779.2 1861.0,781.2 1866.0,783.3 1871.0,785.4 1876.0,787.4 1881.0,789.5"/>
<path d="M388.8,1122.4 393.8,1121.7 398.8,1120.9 403.8,1120.2 408.8,1119.4 413.8,1118.7 418.7,1117.9 423.7,1117.2 428.7,1116.4 433.7,1115.6 438.7,1114.8 443.7,1114.1 448.7,1113.3 453.7,1112.5 458.7,1111.7 463.7,1110.9 468.7,1110.1 473.6,1109.3 478.6,1108.5 483.6,1107.7 488.6,1106.9 493.6,1106.1 498.6,1105.2 503.6,1104.4 508.6,1103.6 513.6,1102.7 518.6,1101.9 523.5,1101.0 528.5,1100.1 533.5,1099.3 538.5,1098.4 543.5,1097.5 548.5,1096.6 553.5,1095.8 558.5,1094.9 563.5,1093.9 568.5,1093.0 573.5,1092.1 578.4,1091.2 583.4,1090.2 588.4,1089.3 593.4,1088.4 598.4,1087.4 603.4,1086.4 608.4,1085.5 613.4,1084.5 618.4,1083.5 623.4,1082.5 628.4,1081.5 633.3,1080.5 638.3,1079.4 643.3,1078.4 648.3,1077.4 653.3,1076.3 658.3,1075.2 663.3,1074.2 668.3,1073.1 673.3,1072.0 678.3,1070.9 683.2,1069.8 688.2,1068.7 693.2,1067.5 698.2,1066.4 703.2,1065.2 708.2,1064.1 713.2,1062.9 718.2,1061.7 723.2,1060.5 728.2,1059.3 733.2,1058.1 738.1,1056.8 743.1,1055.6 748.1,1054.4 753.1,1053.1 758.1,1051.8 763.1,1050.5 768.1,1049.2 773.1,1047.9 778.1,1046.6 783.1,1045.2 788.1,1043.9 793.0,1042.5 798.0,1041.2 803.0,1039.8 808.0,1038.4 813.0,1037.0 818.0,1035.5 823.0,1034.1 828.0,1032.6 833.0,1031.2 838.0,1029.7 842.9,1028.2 847.9,1026.7 852.9,1025.2 857.9,1023.7 862.9,1022.1 867.9,1020.6 872.9,1019.0 877.9,1017.4 882.9,1015.8 887.9,1014.2 892.9,1012.6 897.8,1011.0 902.8,1009.3 907.8,1007.7 912.8,1006.0 917.8,1004.3 922.8,1002.6 927.8,1000.9 932.8,999.2 937.8,997.4 942.8,995.7 947.8,993.9 952.7,992.1 957.7,990.3 962.7,988.5 967.7,986.7 972.7,984.9 977.7,983.1 982.7,981.2 987.7,979.3 992.7,977.5 997.7,975.6 1002.6,973.7 1007.6,971.8 1012.6,969.8 1017.6,967.9 1022.6,966.0 1027.6,964.0 1032.6,962.0 1037.6,960.1 1042.6,958.1 1047.6,956.1 1052.6,954.1 1057.5,952.1 1062.5,950.0 1067.5,948.0 1072.5,946.0 1077.5,943.9 1082.5,941.9 1087.5,939.8 1092.5,937.7 1097.5,935.6 1102.5,933.5 1107.5,931.5 1112.4,929.4 1117.4,927.3 1122.4,925.1 1127.4,923.0 1132.4,920.9 1137.4,918.8 1142.4,916.7 1147.4,914.5 1152.4,912.4 1157.4,910.3 1162.3,908.1 1167.3,906.0 1172.3,903.8 1177.3,901.7 1182.3,899.6 1187.3,897.4 1192.3,895.3 1197.3,893.1 1202.3,891.0 1207.3,888.9 1212.3,886.8 1217.2,884.6 1222.2,882.5 1227.2,880.4 1232.2,878.3 1237.2,876.2 1242.2,874.1 1247.2,872.0 1252.2,869.9 1257.2,867.9 1262.2,865.8 1267.2,863.8 1272.1,861.8 1277.1,859.7 1282.1,857.7 1287.1,855.8 1292.1,853.8 1297.1,851.8 1302.1,849.9 1307.1,848.0 1312.1,846.1 1317.1,844.2 1322.0,842.3 1327.0,840.5 1332.0,838.7 1337.0,836.9 1342.0,835.1 1347.0,833.3 1352.0,831.6 1357.0,829.9 1362.0,828.2 1367.0,826.6 1372.0,825.0 1376.9,823.4 1381.9,821.8 1386.9,820.3 1391.9,818.8 1396.9,817.3 1401.9,815.9 1406.9,814.5 1411.9,813.2 1416.9,811.8 1421.9,810.6 1426.9,809.3 1431.8,808.1 1436.8,806.9 1441.8,805.8 1446.8,804.7 1451.8,803.7 1456.8,802.7 1461.8,801.7 1466.8,800.8 1471.8,800.0 1476.8,799.1 1481.7,798.4 1486.7,797.7 1491.7,797.0 1496.7,796.3 1501.7,795.8 1506.7,795.2 1511.7,794.8 1516.7,794.3 1521.7,794.0 1526.7,793.6 1531.7,793.3 1536.6,793.1 1541.6,793.0 1546.6,792.8 1551.6,792.8 1556.6,792.8 1561.6,792.8 1566.6,792.9 1571.6,793.1 1576.6,793.2 1581.6,793.5 1586.6,793.8 1591.5,794.1 1596.5,794.5 1601.5,795.0 1606.5,795.5 1611.5,796.0 1616.5,796.6 1621.5,797.2 1626.5,797.8 1631.5,798.5 1636.5,799.3 1641.4,800.1 1646.4,800.9 1651.4,801.7 1656.4,802.6 1661.4,803.6 1666.4,804.5 1671.4,805.5 1676.4,806.5 1681.4,807.6 1686.4,808.7 1691.4,809.8 1696.3,811.0 1701.3,812.1 1706.3,813.3 1711.3,814.5 1716.3,815.8 1721.3,817.0 1726.3,818.3 1731.3,819.6 1736.3,820.9 1741.3,822.3 1746.3,823.6 1751.2,825.0 1756.2,826.4 1761.2,827.8 1766.2,829.2 1771.2,830.6 1776.2,832.0 1781.2,833.4 1786.2,834.8 1791.2,836.3 1796.2,837.7 1801.1,839.1 1806.1,840.5 1811.1,842.0 1816.1,843.4 1821.1,844.8 1826.1,846.2 1831.1,847.6 1836.1,849.0 1841.1,850.4 1846.1,851.8 1851.1,853.2 1856.0,854.5 1861.0,855.8 1866.0,857.2 1871.0,858.5 1876.0,859.7 1881.0,861.0"/>
<path d="M388.8,1135.5 393.8,1135.0 398.8,1134.5 403.8,1134.0 408.8,1133.5 413.8,1133.0 418.7,1132.4 423.7,1131.9 428.7,1131.4 433.7,1130.9 438.7,1130.3 443.7,1129.8 448.7,1129.3 453.7,1128.7 458.7,1128.2 463.7,1127.7 468.7,1127.1 473.6,1126.6 478.6,1126.0 483.6,1125.4 488.6,1124.9 493.6,1124.3 498.6,1123.7 503.6,1123.1 508.6,1122.6 513.6,1122.0 518.6,1121.4 523.5,1120.8 528.5,1120.2 533.5,1119.6 538.5,1119.0 543.5,1118.3 548.5,1117.7 553.5,1117.1 558.5,1116.5 563.5,1115.8 568.5,1115.2 573.5,1114.5 578.4,1113.9 583.4,1113.2 588.4,1112.5 593.4,1111.9 598.4,1111.2 603.4,1110.5 608.4,1109.8 613.4,1109.1 618.4,1108.4 623.4,1107.7 628.4,1107.0 633.3,1106.2 638.3,1105.5 643.3,1104.8 648.3,1104.0 653.3,1103.3 658.3,1102.5 663.3,1101.7 668.3,1100.9 673.3,1100.2 678.3,1099.4 683.2,1098.6 688.2,1097.7 693.2,1096.9 698.2,1096.1 703.2,1095.3 708.2,1094.4 713.2,1093.6 718.2,1092.7 723.2,1091.9 728.2,1091.0 733.2,1090.1 738.1,1089.2 743.1,1088.3 748.1,1087.4 753.1,1086.5 758.1,1085.5 763.1,1084.6 768.1,1083.6 773.1,1082.7 778.1,1081.7 783.1,1080.7 788.1,1079.8 793.0,1078.8 798.0,1077.8 803.0,1076.7 808.0,1075.7 813.0,1074.7 818.0,1073.6 823.0,1072.6 828.0,1071.5 833.0,1070.4 838.0,1069.3 842.9,1068.2 847.9,1067.1 852.9,1066.0 857.9,1064.9 862.9,1063.8 867.9,1062.6 872.9,1061.5 877.9,1060.3 882.9,1059.1 887.9,1057.9 892.9,1056.7 897.8,1055.5 902.8,1054.3 907.8,1053.0 912.8,1051.8 917.8,1050.5 922.8,1049.3 927.8,1048.0 932.8,1046.7 937.8,1045.4 942.8,1044.1 947.8,1042.8 952.7,1041.5 957.7,1040.1 962.7,1038.8 967.7,1037.4 972.7,1036.0 977.7,1034.6 982.7,1033.3 987.7,1031.9 992.7,1030.4 997.7,1029.0 1002.6,1027.6 1007.6,1026.1 1012.6,1024.7 1017.6,1023.2 1022.6,1021.7 1027.6,1020.3 1032.6,1018.8 1037.6,1017.3 1042.6,1015.8 1047.6,1014.2 1052.6,1012.7 1057.5,1011.2 1062.5,1009.6 1067.5,1008.1 1072.5,1006.5 1077.5,1004.9 1082.5,1003.3 1087.5,1001.8 1092.5,1000.2 1097.5,998.5 1102.5,996.9 1107.5,995.3 1112.4,993.7 1117.4,992.1 1122.4,990.4 1127.4,988.8 1132.4,987.1 1137.4,985.5 1142.4,983.8 1147.4,982.1 1152.4,980.5 1157.4,978.8 1162.3,977.1 1167.3,975.4 1172.3,973.7 1177.3,972.0 1182.3,970.3 1187.3,968.6 1192.3,966.9 1197.3,965.2 1202.3,963.5 1207.3,961.8 1212.3,960.1 1217.2,958.4 1222.2,956.7 1227.2,955.0 1232.2,953.2 1237.2,951.5 1242.2,949.8 1247.2,948.1 1252.2,946.4 1257.2,944.7 1262.2,943.0 1267.2,941.4 1272.1,939.7 1277.1,938.0 1282.1,936.3 1287.1,934.6 1292.1,933.0 1297.1,931.3 1302.1,929.7 1307.1,928.0 1312.1,926.4 1317.1,924.8 1322.0,923.2 1327.0,921.6 1332.0,920.0 1337.0,918.4 1342.0,916.9 1347.0,915.3 1352.0,913.8 1357.0,912.2 1362.0,910.7 1367.0,909.2 1372.0,907.8 1376.9,906.3 1381.9,904.8 1386.9,903.4 1391.9,902.0 1396.9,900.6 1401.9,899.2 1406.9,897.9 1411.9,896.5 1416.9,895.2 1421.9,893.9 1426.9,892.7 1431.8,891.4 1436.8,890.2 1441.8,889.0 1446.8,887.8 1451.8,886.7 1456.8,885.6 1461.8,884.5 1466.8,883.5 1471.8,882.4 1476.8,881.4 1481.7,880.5 1486.7,879.5 1491.7,878.7 1496.7,877.8 1501.7,877.0 1506.7,876.2 1511.7,875.4 1516.7,874.7 1521.7,874.0 1526.7,873.4 1531.7,872.7 1536.6,872.2 1541.6,871.6 1546.6,871.2 1551.6,870.7 1556.6,870.3 1561.6,869.9 1566.6,869.6 1571.6,869.3 1576.6,869.1 1581.6,868.9 1586.6,868.7 1591.5,868.6 1596.5,868.5 1601.5,868.5 1606.5,868.5 1611.5,868.6 1616.5,868.7 1621.5,868.8 1626.5,869.0 1631.5,869.2 1636.5,869.5 1641.4,869.8 1646.4,870.1 1651.4,870.4 1656.4,870.8 1661.4,871.3 1666.4,871.7 1671.4,872.2 1676.4,872.7 1681.4,873.2 1686.4,873.8 1691.4,874.4 1696.3,875.0 1701.3,875.6 1706.3,876.3 1711.3,877.0 1716.3,877.7 1721.3,878.4 1726.3,879.2 1731.3,879.9 1736.3,880.7 1741.3,881.5 1746.3,882.3 1751.2,883.1 1756.2,883.9 1761.2,884.8 1766.2,885.6 1771.2,886.4 1776.2,887.3 1781.2,888.2 1786.2,889.0 1791.2,889.9 1796.2,890.8 1801.1,891.6 1806.1,892.5 1811.1,893.3 1816.1,894.2 1821.1,895.0 1826.1,895.9 1831.1,896.7 1836.1,897.5 1841.1,898.4 1846.1,899.2 1851.1,899.9 1856.0,900.7 1861.0,901.5 1866.0,902.2 1871.0,902.9 1876.0,903.6 1881.0,904.3"/>
<path d="M388.8,1146.9 393.8,1146.6 398.8,1146.3 403.8,1146.0 408.8,1145.7 413.8,1145.3 418.7,1145.0 423.7,1144.7 428.7,1144.4 433.7,1144.0 438.7,1143.7 443.7,1143.4 448.7,1143.0 453.7,1142.7 458.7,1142.3 463.7,1142.0 468.7,1141.6 473.6,1141.3 478.6,1140.9 483.6,1140.5 488.6,1140.2 493.6,1139.8 498.6,1139.4 503.6,1139.0 508.6,1138.6 513.6,1138.3 518.6,1137.9 523.5,1137.5 528.5,1137.1 533.5,1136.6 538.5,1136.2 543.5,1135.8 548.5,1135.4 553.5,1135.0 558.5,1134.5 563.5,1134.1 568.5,1133.7 573.5,1133.2 578.4,1132.8 583.4,1132.3 588.4,1131.9 593.4,1131.4 598.4,1130.9 603.4,1130.5 608.4,1130.0 613.4,1129.5 618.4,1129.0 623.4,1128.5 628.4,1128.0 633.3,1127.5 638.3,1127.0 643.3,1126.5 648.3,1125.9 653.3,1125.4 658.3,1124.9 663.3,1124.3 668.3,1123.8 673.3,1123.2 678.3,1122.7 683.2,1122.1 688.2,1121.5 693.2,1121.0 698.2,1120.4 703.2,1119.8 708.2,1119.2 713.2,1118.6 718.2,1118.0 723.2,1117.4 728.2,1116.7 733.2,1116.1 738.1,1115.5 743.1,1114.8 748.1,1114.2 753.1,1113.5 758.1,1112.9 763.1,1112.2 768.1,1111.5 773.1,1110.8 778.1,1110.2 783.1,1109.5 788.1,1108.7 793.0,1108.0 798.0,1107.3 803.0,1106.6 808.0,1105.9 813.0,1105.1 818.0,1104.4 823.0,1103.6 828.0,1102.8 833.0,1102.1 838.0,1101.3 842.9,1100.5 847.9,1099.7 852.9,1098.9 857.9,1098.1 862.9,1097.3 867.9,1096.4 872.9,1095.6 877.9,1094.8 882.9,1093.9 887.9,1093.0 892.9,1092.2 897.8,1091.3 902.8,1090.4 907.8,1089.5 912.8,1088.6 917.8,1087.7 922.8,1086.8 927.8,1085.9 932.8,1084.9 937.8,1084.0 942.8,1083.0 947.8,1082.1 952.7,1081.1 957.7,1080.2 962.7,1079.2 967.7,1078.2 972.7,1077.2 977.7,1076.2 982.7,1075.2 987.7,1074.1 992.7,1073.1 997.7,1072.1 1002.6,1071.0 1007.6,1070.0 1012.6,1068.9 1017.6,1067.8 1022.6,1066.7 1027.6,1065.7 1032.6,1064.6 1037.6,1063.5 1042.6,1062.3 1047.6,1061.2 1052.6,1060.1 1057.5,1059.0 1062.5,1057.8 1067.5,1056.7 1072.5,1055.5 1077.5,1054.4 1082.5,1053.2 1087.5,1052.0 1092.5,1050.8 1097.5,1049.6 1102.5,1048.4 1107.5,1047.2 1112.4,1046.0 1117.4,1044.8 1122.4,1043.6 1127.4,1042.3 1132.4,1041.1 1137.4,1039.9 1142.4,1038.6 1147.4,1037.4 1152.4,1036.1 1157.4,1034.8 1162.3,1033.6 1167.3,1032.3 1172.3,1031.0 1177.3,1029.7 1182.3,1028.4 1187.3,1027.1 1192.3,1025.8 1197.3,1024.5 1202.3,1023.2 1207.3,1021.9 1212.3,1020.6 1217.2,1019.3 1222.2,1017.9 1227.2,1016.6 1232.2,1015.3 1237.2,1014.0 1242.2,1012.6 1247.2,1011.3 1252.2,1010.0 1257.2,1008.6 1262.2,1007.3 1267.2,1006.0 1272.1,1004.6 1277.1,1003.3 1282.1,1001.9 1287.1,1000.6 1292.1,999.3 1297.1,997.9 1302.1,996.6 1307.1,995.3 1312.1,993.9 1317.1,992.6 1322.0,991.3 1327.0,989.9 1332.0,988.6 1337.0,987.3 1342.0,986.0 1347.0,984.7 1352.0,983.4 1357.0,982.1 1362.0,980.8 1367.0,979.5 1372.0,978.2 1376.9,977.0 1381.9,975.7 1386.9,974.4 1391.9,973.2 1396.9,972.0 1401.9,970.7 1406.9,969.5 1411.9,968.3 1416.9,967.1 1421.9,965.9 1426.9,964.7 1431.8,963.6 1436.8,962.4 1441.8,961.3 1446.8,960.1 1451.8,959.0 1456.8,957.9 1461.8,956.8 1466.8,955.8 1471.8,954.7 1476.8,953.7 1481.7,952.7 1486.7,951.6 1491.7,950.7 1496.7,949.7 1501.7,948.7 1506.7,947.8 1511.7,946.9 1516.7,946.0 1521.7,945.1 1526.7,944.2 1531.7,943.4 1536.6,942.6 1541.6,941.8 1546.6,941.0 1551.6,940.2 1556.6,939.5 1561.6,938.8 1566.6,938.1 1571.6,937.4 1576.6,936.8 1581.6,936.2 1586.6,935.6 1591.5,935.0 1596.5,934.4 1601.5,933.9 1606.5,933.4 1611.5,932.9 1616.5,932.5 1621.5,932.1 1626.5,931.7 1631.5,931.3 1636.5,930.9 1641.4,930.6 1646.4,930.3 1651.4,930.0 1656.4,929.8 1661.4,929.6 1666.4,929.4 1671.4,929.2 1676.4,929.0 1681.4,928.9 1686.4,928.8 1691.4,928.7 1696.3,928.7 1701.3,928.6 1706.3,928.6 1711.3,928.6 1716.3,928.6 1721.3,928.7 1726.3,928.7 1731.3,928.8 1736.3,928.9 1741.3,929.0 1746.3,929.2 1751.2,929.3 1756.2,929.5 1761.2,929.7 1766.2,929.8 1771.2,930.1 1776.2,930.3 1781.2,930.5 1786.2,930.8 1791.2,931.0 1796.2,931.3 1801.1,931.6 1806.1,931.8 1811.1,932.1 1816.1,932.4 1821.1,932.8 1826.1,933.1 1831.1,933.4 1836.1,933.7 1841.1,934.1 1846.1,934.4 1851.1,934.8 1856.0,935.1 1861.0,935.5 1866.0,935.8 1871.0,936.2 1876.0,936.5 1881.0,936.9"/>
<path d="M388.8,1156.9 393.8,1156.8 398.8,1156.6 403.8,1156.5 408.8,1156.3 413.8,1156.1 418.7,1156.0 423.7,1155.8 428.7,1155.6 433.7,1155.4 438.7,1155.2 443.7,1155.1 448.7,1154.9 453.7,1154.7 458.7,1154.5 463.7,1154.3 468.7,1154.1 473.6,1153.9 478.6,1153.7 483.6,1153.5 488.6,1153.2 493.6,1153.0 498.6,1152.8 503.6,1152.6 508.6,1152.4 513.6,1152.1 518.6,1151.9 523.5,1151.7 528.5,1151.4 533.5,1151.2 538.5,1150.9 543.5,1150.7 548.5,1150.4 553.5,1150.2 558.5,1149.9 563.5,1149.6 568.5,1149.4 573.5,1149.1 578.4,1148.8 583.4,1148.5 588.4,1148.3 593.4,1148.0 598.4,1147.7 603.4,1147.4 608.4,1147.1 613.4,1146.8 618.4,1146.5 623.4,1146.2 628.4,1145.8 633.3,1145.5 638.3,1145.2 643.3,1144.9 648.3,1144.5 653.3,1144.2 658.3,1143.9 663.3,1143.5 668.3,1143.2 673.3,1142.8 678.3,1142.4 683.2,1142.1 688.2,1141.7 693.2,1141.3 698.2,1140.9 703.2,1140.6 708.2,1140.2 713.2,1139.8 718.2,1139.4 723.2,1139.0 728.2,1138.6 733.2,1138.1 738.1,1137.7 743.1,1137.3 748.1,1136.9 753.1,1136.4 758.1,1136.0 763.1,1135.5 768.1,1135.1 773.1,1134.6 778.1,1134.2 783.1,1133.7 788.1,1133.2 793.0,1132.8 798.0,1132.3 803.0,1131.8 808.0,1131.3 813.0,1130.8 818.0,1130.3 823.0,1129.8 828.0,1129.2 833.0,1128.7 838.0,1128.2 842.9,1127.6 847.9,1127.1 852.9,1126.6 857.9,1126.0 862.9,1125.4 867.9,1124.9 872.9,1124.3 877.9,1123.7 882.9,1123.1 887.9,1122.5 892.9,1121.9 897.8,1121.3 902.8,1120.7 907.8,1120.1 912.8,1119.5 917.8,1118.8 922.8,1118.2 927.8,1117.5 932.8,1116.9 937.8,1116.2 942.8,1115.6 947.8,1114.9 952.7,1114.2 957.7,1113.5 962.7,1112.8 967.7,1112.1 972.7,1111.4 977.7,1110.7 982.7,1110.0 987.7,1109.3 992.7,1108.5 997.7,1107.8 1002.6,1107.0 1007.6,1106.3 1012.6,1105.5 1017.6,1104.7 1022.6,1104.0 1027.6,1103.2 1032.6,1102.4 1037.6,1101.6 1042.6,1100.8 1047.6,1100.0 1052.6,1099.2 1057.5,1098.3 1062.5,1097.5 1067.5,1096.7 1072.5,1095.8 1077.5,1095.0 1082.5,1094.1 1087.5,1093.2 1092.5,1092.4 1097.5,1091.5 1102.5,1090.6 1107.5,1089.7 1112.4,1088.8 1117.4,1087.9 1122.4,1087.0 1127.4,1086.1 1132.4,1085.1 1137.4,1084.2 1142.4,1083.3 1147.4,1082.3 1152.4,1081.4 1157.4,1080.4 1162.3,1079.4 1167.3,1078.5 1172.3,1077.5 1177.3,1076.5 1182.3,1075.5 1187.3,1074.5 1192.3,1073.5 1197.3,1072.5 1202.3,1071.5 1207.3,1070.5 1212.3,1069.5 1217.2,1068.4 1222.2,1067.4 1227.2,1066.4 1232.2,1065.3 1237.2,1064.3 1242.2,1063.2 1247.2,1062.2 1252.2,1061.1 1257.2,1060.0 1262.2,1059.0 1267.2,1057.9 1272.1,1056.8 1277.1,1055.7 1282.1,1054.7 1287.1,1053.6 1292.1,1052.5 1297.1,1051.4 1302.1,1050.3 1307.1,1049.2 1312.1,1048.1 1317.1,1047.0 1322.0,1045.9 1327.0,1044.8 1332.0,1043.7 1337.0,1042.6 1342.0,1041.5 1347.0,1040.4 1352.0,1039.3 1357.0,1038.2 1362.0,1037.1 1367.0,1036.0 1372.0,1034.9 1376.9,1033.8 1381.9,1032.7 1386.9,1031.6 1391.9,1030.5 1396.9,1029.4 1401.9,1028.3 1406.9,1027.2 1411.9,1026.1 1416.9,1025.0 1421.9,1024.0 1426.9,1022.9 1431.8,1021.8 1436.8,1020.7 1441.8,1019.7 1446.8,1018.6 1451.8,1017.6 1456.8,1016.5 1461.8,1015.5 1466.8,1014.4 1471.8,1013.4 1476.8,1012.4 1481.7,1011.3 1486.7,1010.3 1491.7,1009.3 1496.7,1008.3 1501.7,1007.4 1506.7,1006.4 1511.7,1005.4 1516.7,1004.4 1521.7,1003.5 1526.7,1002.6 1531.7,1001.6 1536.6,1000.7 1541.6,999.8 1546.6,998.9 1551.6,998.0 1556.6,997.1 1561.6,996.3 1566.6,995.4 1571.6,994.6 1576.6,993.7 1581.6,992.9 1586.6,992.1 1591.5,991.3 1596.5,990.5 1601.5,989.8 1606.5,989.0 1611.5,988.3 1616.5,987.6 1621.5,986.9 1626.5,986.2 1631.5,985.5 1636.5,984.8 1641.4,984.2 1646.4,983.6 1651.4,983.0 1656.4,982.4 1661.4,981.8 1666.4,981.2 1671.4,980.7 1676.4,980.1 1681.4,979.6 1686.4,979.1 1691.4,978.6 1696.3,978.2 1701.3,977.7 1706.3,977.3 1711.3,976.9 1716.3,976.5 1721.3,976.1 1726.3,975.7 1731.3,975.4 1736.3,975.1 1741.3,974.7 1746.3,974.5 1751.2,974.2 1756.2,973.9 1761.2,973.7 1766.2,973.5 1771.2,973.3 1776.2,973.1 1781.2,972.9 1786.2,972.8 1791.2,972.6 1796.2,972.5 1801.1,972.4 1806.1,972.3 1811.1,972.3 1816.1,972.2 1821.1,972.2 1826.1,972.2 1831.1,972.2 1836.1,972.2 1841.1,972.3 1846.1,972.3 1851.1,972.4 1856.0,972.5 1861.0,972.6 1866.0,972.7 1871.0,972.9 1876.0,973.0 1881.0,973.2"/>
<path d="M388.8,1165.5 393.8,1165.5 398.8,1165.4 403.8,1165.4 408.8,1165.4 413.8,1165.3 418.7,1165.3 423.7,1165.3 428.7,1165.2 433.7,1165.2 438.7,1165.1 443.7,1165.1 448.7,1165.1 453.7,1165.0 458.7,1165.0 463.7,1164.9 468.7,1164.9 473.6,1164.8 478.6,1164.8 483.6,1164.7 488.6,1164.7 493.6,1164.6 498.6,1164.5 503.6,1164.5 508.6,1164.4 513.6,1164.4 518.6,1164.3 523.5,1164.2 528.5,1164.1 533.5,1164.1 538.5,1164.0 543.5,1163.9 548.5,1163.8 553.5,1163.8 558.5,1163.7 563.5,1163.6 568.5,1163.5 573.5,1163.4 578.4,1163.3 583.4,1163.2 588.4,1163.1 593.4,1163.0 598.4,1162.9 603.4,1162.8 608.4,1162.7 613.4,1162.6 618.4,1162.5 623.4,1162.4 628.4,1162.3 633.3,1162.2 638.3,1162.1 643.3,1161.9 648.3,1161.8 653.3,1161.7 658.3,1161.5 663.3,1161.4 668.3,1161.3 673.3,1161.1 678.3,1161.0 683.2,1160.9 688.2,1160.7 693.2,1160.6 698.2,1160.4 703.2,1160.2 708.2,1160.1 713.2,1159.9 718.2,1159.8 723.2,1159.6 728.2,1159.4 733.2,1159.2 738.1,1159.1 743.1,1158.9 748.1,1158.7 753.1,1158.5 758.1,1158.3 763.1,1158.1 768.1,1157.9 773.1,1157.7 778.1,1157.5 783.1,1157.3 788.1,1157.1 793.0,1156.8 798.0,1156.6 803.0,1156.4 808.0,1156.1 813.0,1155.9 818.0,1155.7 823.0,1155.4 828.0,1155.2 833.0,1154.9 838.0,1154.7 842.9,1154.4 847.9,1154.1 852.9,1153.9 857.9,1153.6 862.9,1153.3 867.9,1153.0 872.9,1152.7 877.9,1152.4 882.9,1152.1 887.9,1151.8 892.9,1151.5 897.8,1151.2 902.8,1150.8 907.8,1150.5 912.8,1150.2 917.8,1149.8 922.8,1149.5 927.8,1149.1 932.8,1148.8 937.8,1148.4 942.8,1148.0 947.8,1147.7 952.7,1147.3 957.7,1146.9 962.7,1146.5 967.7,1146.1 972.7,1145.7 977.7,1145.3 982.7,1144.9 987.7,1144.4 992.7,1144.0 997.7,1143.6 1002.6,1143.1 1007.6,1142.7 1012.6,1142.2 1017.6,1141.7 1022.6,1141.2 1027.6,1140.8 1032.6,1140.3 1037.6,1139.8 1042.6,1139.3 1047.6,1138.7 1052.6,1138.2 1057.5,1137.7 1062.5,1137.2 1067.5,1136.6 1072.5,1136.1 1077.5,1135.5 1082.5,1134.9 1087.5,1134.3 1092.5,1133.8 1097.5,1133.2 1102.5,1132.6 1107.5,1132.0 1112.4,1131.3 1117.4,1130.7 1122.4,1130.1 1127.4,1129.4 1132.4,1128.8 1137.4,1128.1 1142.4,1127.4 1147.4,1126.7 1152.4,1126.1 1157.4,1125.4 1162.3,1124.6 1167.3,1123.9 1172.3,1123.2 1177.3,1122.5 1182.3,1121.7 1187.3,1121.0 1192.3,1120.2 1197.3,1119.4 1202.3,1118.6 1207.3,1117.9 1212.3,1117.1 1217.2,1116.2 1222.2,1115.4 1227.2,1114.6 1232.2,1113.8 1237.2,1112.9 1242.2,1112.1 1247.2,1111.2 1252.2,1110.3 1257.2,1109.4 1262.2,1108.6 1267.2,1107.7 1272.1,1106.7 1277.1,1105.8 1282.1,1104.9 1287.1,1104.0 1292.1,1103.0 1297.1,1102.1 1302.1,1101.1 1307.1,1100.2 1312.1,1099.2 1317.1,1098.2 1322.0,1097.2 1327.0,1096.2 1332.0,1095.2 1337.0,1094.2 1342.0,1093.2 1347.0,1092.2 1352.0,1091.2 1357.0,1090.2 1362.0,1089.1 1367.0,1088.1 1372.0,1087.0 1376.9,1086.0 1381.9,1084.9 1386.9,1083.9 1391.9,1082.8 1396.9,1081.8 1401.9,1080.7 1406.9,1079.6 1411.9,1078.5 1416.9,1077.5 1421.9,1076.4 1426.9,1075.3 1431.8,1074.2 1436.8,1073.2 1441.8,1072.1 1446.8,1071.0 1451.8,1069.9 1456.8,1068.9 1461.8,1067.8 1466.8,1066.7 1471.8,1065.6 1476.8,1064.6 1481.7,1063.5 1486.7,1062.4 1491.7,1061.4 1496.7,1060.3 1501.7,1059.3 1506.7,1058.2 1511.7,1057.2 1516.7,1056.2 1521.7,1055.2 1526.7,1054.1 1531.7,1053.1 1536.6,1052.1 1541.6,1051.1 1546.6,1050.2 1551.6,1049.2 1556.6,1048.2 1561.6,1047.3 1566.6,1046.3 1571.6,1045.4 1576.6,1044.5 1581.6,1043.5 1586.6,1042.6 1591.5,1041.8 1596.5,1040.9 1601.5,1040.0 1606.5,1039.2 1611.5,1038.3 1616.5,1037.5 1621.5,1036.7 1626.5,1035.9 1631.5,1035.1 1636.5,1034.3 1641.4,1033.6 1646.4,1032.8 1651.4,1032.1 1656.4,1031.4 1661.4,1030.7 1666.4,1030.0 1671.4,1029.4 1676.4,1028.7 1681.4,1028.1 1686.4,1027.5 1691.4,1026.9 1696.3,1026.3 1701.3,1025.7 1706.3,1025.2 1711.3,1024.7 1716.3,1024.1 1721.3,1023.6 1726.3,1023.2 1731.3,1022.7 1736.3,1022.2 1741.3,1021.8 1746.3,1021.4 1751.2,1021.0 1756.2,1020.6 1761.2,1020.2 1766.2,1019.9 1771.2,1019.5 1776.2,1019.2 1781.2,1018.9 1786.2,1018.6 1791.2,1018.3 1796.2,1018.0 1801.1,1017.8 1806.1,1017.6 1811.1,1017.3 1816.1,1017.1 1821.1,1017.0 1826.1,1016.8 1831.1,1016.6 1836.1,1016.5 1841.1,1016.3 1846.1,1016.2 1851.1,1016.1 1856.0,1016.0 1861.0,1016.0 1866.0,1015.9 1871.0,1015.8 1876.0,1015.8 1881.0,1015.8"/>
<path d="M388.8,1166.7 393.8,1166.6 398.8,1166.6 403.8,1166.5 408.8,1166.4 413.8,1166.3 418.7,1166.3 423.7,1166.2 428.7,1166.1 433.7,1166.0 438.7,1166.0 443.7,1165.9 448.7,1165.8 453.7,1165.7 458.7,1165.6 463.7,1165.5 468.7,1165.5 473.6,1165.4 478.6,1165.3 483.6,1165.2 488.6,1165.1 493.6,1165.0 498.6,1164.9 503.6,1164.8 508.6,1164.7 513.6,1164.6 518.6,1164.5 523.5,1164.4 528.5,1164.3 533.5,1164.2 538.5,1164.1 543.5,1164.0 548.5,1163.9 553.5,1163.8 558.5,1163.7 563.5,1163.6 568.5,1163.4 573.5,1163.3 578.4,1163.2 583.4,1163.1 588.4,1163.0 593.4,1162.9 598.4,1162.7 603.4,1162.6 608.4,1162.5 613.4,1162.4 618.4,1162.2 623.4,1162.1 628.4,1162.0 633.3,1161.8 638.3,1161.7 643.3,1161.5 648.3,1161.4 653.3,1161.3 658.3,1161.1 663.3,1161.0 668.3,1160.8 673.3,1160.7 678.3,1160.5 683.2,1160.4 688.2,1160.2 693.2,1160.0 698.2,1159.9 703.2,1159.7 708.2,1159.5 713.2,1159.4 718.2,1159.2 723.2,1159.0 728.2,1158.9 733.2,1158.7 738.1,1158.5 743.1,1158.3 748.1,1158.1 753.1,1157.9 758.1,1157.8 763.1,1157.6 768.1,1157.4 773.1,1157.2 778.1,1157.0 783.1,1156.8 788.1,1156.6 793.0,1156.3 798.0,1156.1 803.0,1155.9 808.0,1155.7 813.0,1155.5 818.0,1155.3 823.0,1155.0 828.0,1154.8 833.0,1154.6 838.0,1154.3 842.9,1154.1 847.9,1153.8 852.9,1153.6 857.9,1153.4 862.9,1153.1 867.9,1152.8 872.9,1152.6 877.9,1152.3 882.9,1152.1 887.9,1151.8 892.9,1151.5 897.8,1151.2 902.8,1151.0 907.8,1150.7 912.8,1150.4 917.8,1150.1 922.8,1149.8 927.8,1149.5 932.8,1149.2 937.8,1148.9 942.8,1148.6 947.8,1148.3 952.7,1148.0 957.7,1147.6 962.7,1147.3 967.7,1147.0 972.7,1146.7 977.7,1146.3 982.7,1146.0 987.7,1145.6 992.7,1145.3 997.7,1144.9 1002.6,1144.6 1007.6,1144.2 1012.6,1143.8 1017.6,1143.5 1022.6,1143.1 1027.6,1142.7 1032.6,1142.3 1037.6,1142.0 1042.6,1141.6 1047.6,1141.2 1052.6,1140.8 1057.5,1140.4 1062.5,1139.9 1067.5,1139.5 1072.5,1139.1 1077.5,1138.7 1082.5,1138.3 1087.5,1137.8 1092.5,1137.4 1097.5,1136.9 1102.5,1136.5 1107.5,1136.1 1112.4,1135.6 1117.4,1135.1 1122.4,1134.7 1127.4,1134.2 1132.4,1133.7 1137.4,1133.2 1142.4,1132.8 1147.4,1132.3 1152.4,1131.8 1157.4,1131.3 1162.3,1130.8 1167.3,1130.3 1172.3,1129.8 1177.3,1129.2 1182.3,1128.7 1187.3,1128.2 1192.3,1127.7 1197.3,1127.1 1202.3,1126.6 1207.3,1126.0 1212.3,1125.5 1217.2,1124.9 1222.2,1124.4 1227.2,1123.8 1232.2,1123.3 1237.2,1122.7 1242.2,1122.1 1247.2,1121.5 1252.2,1121.0 1257.2,1120.4 1262.2,1119.8 1267.2,1119.2 1272.1,1118.6 1277.1,1118.0 1282.1,1117.4 1287.1,1116.8 1292.1,1116.2 1297.1,1115.5 1302.1,1114.9 1307.1,1114.3 1312.1,1113.7 1317.1,1113.0 1322.0,1112.4 1327.0,1111.8 1332.0,1111.1 1337.0,1110.5 1342.0,1109.8 1347.0,1109.2 1352.0,1108.5 1357.0,1107.9 1362.0,1107.2 1367.0,1106.6 1372.0,1105.9 1376.9,1105.2 1381.9,1104.6 1386.9,1103.9 1391.9,1103.2 1396.9,1102.6 1401.9,1101.9 1406.9,1101.2 1411.9,1100.5 1416.9,1099.9 1421.9,1099.2 1426.9,1098.5 1431.8,1097.8 1436.8,1097.2 1441.8,1096.5 1446.8,1095.8 1451.8,1095.1 1456.8,1094.4 1461.8,1093.8 1466.8,1093.1 1471.8,1092.4 1476.8,1091.7 1481.7,1091.0 1486.7,1090.3 1491.7,1089.7 1496.7,1089.0 1501.7,1088.3 1506.7,1087.6 1511.7,1087.0 1516.7,1086.3 1521.7,1085.6 1526.7,1084.9 1531.7,1084.3 1536.6,1083.6 1541.6,1082.9 1546.6,1082.3 1551.6,1081.6 1556.6,1081.0 1561.6,1080.3 1566.6,1079.7 1571.6,1079.0 1576.6,1078.4 1581.6,1077.7 1586.6,1077.1 1591.5,1076.4 1596.5,1075.8 1601.5,1075.2 1606.5,1074.5 1611.5,1073.9 1616.5,1073.3 1621.5,1072.7 1626.5,1072.1 1631.5,1071.5 1636.5,1070.9 1641.4,1070.3 1646.4,1069.7 1651.4,1069.1 1656.4,1068.5 1661.4,1067.9 1666.4,1067.3 1671.4,1066.7 1676.4,1066.2 1681.4,1065.6 1686.4,1065.1 1691.4,1064.5 1696.3,1063.9 1701.3,1063.4 1706.3,1062.9 1711.3,1062.3 1716.3,1061.8 1721.3,1061.3 1726.3,1060.8 1731.3,1060.2 1736.3,1059.7 1741.3,1059.2 1746.3,1058.7 1751.2,1058.2 1756.2,1057.7 1761.2,1057.3 1766.2,1056.8 1771.2,1056.3 1776.2,1055.9 1781.2,1055.4 1786.2,1054.9 1791.2,1054.5 1796.2,1054.0 1801.1,1053.6 1806.1,1053.2 1811.1,1052.7 1816.1,1052.3 1821.1,1051.9 1826.1,1051.5 1831.1,1051.1 1836.1,1050.7 1841.1,1050.3 1846.1,1049.9 1851.1,1049.5 1856.0,1049.1 1861.0,1048.8 1866.0,1048.4 1871.0,1048.0 1876.0,1047.7 1881.0,1047.3"/>
<path d="M388.8,1168.0 393.8,1168.0 398.8,1167.9 403.8,1167.9 408.8,1167.9 413.8,1167.8 418.7,1167.8 423.7,1167.8 428.7,1167.7 433.7,1167.7 438.7,1167.7 443.7,1167.6 448.7,1167.6 453.7,1167.5 458.7,1167.5 463.7,1167.5 468.7,1167.4 473.6,1167.4 478.6,1167.3 483.6,1167.3 488.6,1167.2 493.6,1167.2 498.6,1167.1 503.6,1167.1 508.6,1167.0 513.6,1167.0 518.6,1166.9 523.5,1166.9 528.5,1166.8 533.5,1166.8 538.5,1166.7 543.5,1166.7 548.5,1166.6 553.5,1166.5 558.5,1166.5 563.5,1166.4 568.5,1166.4 573.5,1166.3 578.4,1166.2 583.4,1166.2 588.4,1166.1 593.4,1166.1 598.4,1166.0 603.4,1165.9 608.4,1165.8 613.4,1165.8 618.4,1165.7 623.4,1165.6 628.4,1165.6 633.3,1165.5 638.3,1165.4 643.3,1165.3 648.3,1165.3 653.3,1165.2 658.3,1165.1 663.3,1165.0 668.3,1164.9 673.3,1164.9 678.3,1164.8 683.2,1164.7 688.2,1164.6 693.2,1164.5 698.2,1164.4 703.2,1164.3 708.2,1164.2 713.2,1164.1 718.2,1164.0 723.2,1163.9 728.2,1163.8 733.2,1163.7 738.1,1163.6 743.1,1163.5 748.1,1163.4 753.1,1163.3 758.1,1163.2 763.1,1163.1 768.1,1163.0 773.1,1162.9 778.1,1162.8 783.1,1162.7 788.1,1162.5 793.0,1162.4 798.0,1162.3 803.0,1162.2 808.0,1162.1 813.0,1161.9 818.0,1161.8 823.0,1161.7 828.0,1161.5 833.0,1161.4 838.0,1161.3 842.9,1161.1 847.9,1161.0 852.9,1160.9 857.9,1160.7 862.9,1160.6 867.9,1160.4 872.9,1160.3 877.9,1160.1 882.9,1160.0 887.9,1159.8 892.9,1159.7 897.8,1159.5 902.8,1159.3 907.8,1159.2 912.8,1159.0 917.8,1158.9 922.8,1158.7 927.8,1158.5 932.8,1158.3 937.8,1158.2 942.8,1158.0 947.8,1157.8 952.7,1157.6 957.7,1157.4 962.7,1157.2 967.7,1157.1 972.7,1156.9 977.7,1156.7 982.7,1156.5 987.7,1156.3 992.7,1156.1 997.7,1155.9 1002.6,1155.6 1007.6,1155.4 1012.6,1155.2 1017.6,1155.0 1022.6,1154.8 1027.6,1154.6 1032.6,1154.3 1037.6,1154.1 1042.6,1153.9 1047.6,1153.6 1052.6,1153.4 1057.5,1153.2 1062.5,1152.9 1067.5,1152.7 1072.5,1152.4 1077.5,1152.2 1082.5,1151.9 1087.5,1151.7 1092.5,1151.4 1097.5,1151.1 1102.5,1150.9 1107.5,1150.6 1112.4,1150.3 1117.4,1150.0 1122.4,1149.8 1127.4,1149.5 1132.4,1149.2 1137.4,1148.9 1142.4,1148.6 1147.4,1148.3 1152.4,1148.0 1157.4,1147.7 1162.3,1147.4 1167.3,1147.1 1172.3,1146.8 1177.3,1146.5 1182.3,1146.1 1187.3,1145.8 1192.3,1145.5 1197.3,1145.1 1202.3,1144.8 1207.3,1144.5 1212.3,1144.1 1217.2,1143.8 1222.2,1143.4 1227.2,1143.1 1232.2,1142.7 1237.2,1142.4 1242.2,1142.0 1247.2,1141.6 1252.2,1141.2 1257.2,1140.9 1262.2,1140.5 1267.2,1140.1 1272.1,1139.7 1277.1,1139.3 1282.1,1138.9 1287.1,1138.5 1292.1,1138.1 1297.1,1137.7 1302.1,1137.3 1307.1,1136.9 1312.1,1136.4 1317.1,1136.0 1322.0,1135.6 1327.0,1135.2 1332.0,1134.7 1337.0,1134.3 1342.0,1133.8 1347.0,1133.4 1352.0,1132.9 1357.0,1132.5 1362.0,1132.0 1367.0,1131.6 1372.0,1131.1 1376.9,1130.6 1381.9,1130.2 1386.9,1129.7 1391.9,1129.2 1396.9,1128.7 1401.9,1128.2 1406.9,1127.7 1411.9,1127.2 1416.9,1126.7 1421.9,1126.2 1426.9,1125.7 1431.8,1125.2 1436.8,1124.7 1441.8,1124.2 1446.8,1123.7 1451.8,1123.1 1456.8,1122.6 1461.8,1122.1 1466.8,1121.5 1471.8,1121.0 1476.8,1120.5 1481.7,1119.9 1486.7,1119.4 1491.7,1118.8 1496.7,1118.3 1501.7,1117.7 1506.7,1117.2 1511.7,1116.6 1516.7,1116.0 1521.7,1115.5 1526.7,1114.9 1531.7,1114.3 1536.6,1113.8 1541.6,1113.2 1546.6,1112.6 1551.6,1112.0 1556.6,1111.5 1561.6,1110.9 1566.6,1110.3 1571.6,1109.7 1576.6,1109.1 1581.6,1108.5 1586.6,1107.9 1591.5,1107.4 1596.5,1106.8 1601.5,1106.2 1606.5,1105.6 1611.5,1105.0 1616.5,1104.4 1621.5,1103.8 1626.5,1103.2 1631.5,1102.6 1636.5,1102.0 1641.4,1101.4 1646.4,1100.8 1651.4,1100.2 1656.4,1099.6 1661.4,1099.0 1666.4,1098.4 1671.4,1097.8 1676.4,1097.2 1681.4,1096.6 1686.4,1096.0 1691.4,1095.4 1696.3,1094.8 1701.3,1094.2 1706.3,1093.6 1711.3,1093.0 1716.3,1092.4 1721.3,1091.8 1726.3,1091.2 1731.3,1090.7 1736.3,1090.1 1741.3,1089.5 1746.3,1088.9 1751.2,1088.3 1756.2,1087.7 1761.2,1087.2 1766.2,1086.6 1771.2,1086.0 1776.2,1085.5 1781.2,1084.9 1786.2,1084.3 1791.2,1083.8 1796.2,1083.2 1801.1,1082.6 1806.1,1082.1 1811.1,1081.5 1816.1,1081.0 1821.1,1080.4 1826.1,1079.9 1831.1,1079.4 1836.1,1078.8 1841.1,1078.3 1846.1,1077.8 1851.1,1077.2 1856.0,1076.7 1861.0,1076.2 1866.0,1075.7 1871.0,1075.2 1876.0,1074.7 1881.0,1074.2"/>
<path d="M388.8,1169.0 393.8,1169.0 398.8,1168.9 403.8,1168.8 408.8,1168.7 413.8,1168.7 418.7,1168.6 423.7,1168.5 428.7,1168.4 433.7,1168.3 438.7,1168.3 443.7,1168.2 448.7,1168.1 453.7,1168.0 458.7,1167.9 463.7,1167.9 468.7,1167.8 473.6,1167.7 478.6,1167.6 483.6,1167.6 488.6,1167.5 493.6,1167.4 498.6,1167.3 503.6,1167.2 508.6,1167.2 513.6,1167.1 518.6,1167.0 523.5,1166.9 528.5,1166.8 533.5,1166.8 538.5,1166.7 543.5,1166.6 548.5,1166.5 553.5,1166.4 558.5,1166.3 563.5,1166.3 568.5,1166.2 573.5,1166.1 578.4,1166.0 583.4,1165.9 588.4,1165.8 593.4,1165.8 598.4,1165.7 603.4,1165.6 608.4,1165.5 613.4,1165.4 618.4,1165.3 623.4,1165.2 628.4,1165.1 633.3,1165.1 638.3,1165.0 643.3,1164.9 648.3,1164.8 653.3,1164.7 658.3,1164.6 663.3,1164.5 668.3,1164.4 673.3,1164.3 678.3,1164.2 683.2,1164.1 688.2,1164.1 693.2,1164.0 698.2,1163.9 703.2,1163.8 708.2,1163.7 713.2,1163.6 718.2,1163.5 723.2,1163.4 728.2,1163.3 733.2,1163.2 738.1,1163.1 743.1,1163.0 748.1,1162.9 753.1,1162.8 758.1,1162.7 763.1,1162.6 768.1,1162.5 773.1,1162.4 778.1,1162.2 783.1,1162.1 788.1,1162.0 793.0,1161.9 798.0,1161.8 803.0,1161.7 808.0,1161.6 813.0,1161.5 818.0,1161.4 823.0,1161.2 828.0,1161.1 833.0,1161.0 838.0,1160.9 842.9,1160.8 847.9,1160.7 852.9,1160.5 857.9,1160.4 862.9,1160.3 867.9,1160.2 872.9,1160.0 877.9,1159.9 882.9,1159.8 887.9,1159.7 892.9,1159.5 897.8,1159.4 902.8,1159.3 907.8,1159.1 912.8,1159.0 917.8,1158.9 922.8,1158.7 927.8,1158.6 932.8,1158.5 937.8,1158.3 942.8,1158.2 947.8,1158.0 952.7,1157.9 957.7,1157.7 962.7,1157.6 967.7,1157.4 972.7,1157.3 977.7,1157.1 982.7,1157.0 987.7,1156.8 992.7,1156.7 997.7,1156.5 1002.6,1156.4 1007.6,1156.2 1012.6,1156.0 1017.6,1155.9 1022.6,1155.7 1027.6,1155.5 1032.6,1155.4 1037.6,1155.2 1042.6,1155.0 1047.6,1154.9 1052.6,1154.7 1057.5,1154.5 1062.5,1154.3 1067.5,1154.1 1072.5,1154.0 1077.5,1153.8 1082.5,1153.6 1087.5,1153.4 1092.5,1153.2 1097.5,1153.0 1102.5,1152.8 1107.5,1152.6 1112.4,1152.4 1117.4,1152.2 1122.4,1152.0 1127.4,1151.8 1132.4,1151.6 1137.4,1151.4 1142.4,1151.2 1147.4,1151.0 1152.4,1150.8 1157.4,1150.6 1162.3,1150.4 1167.3,1150.2 1172.3,1149.9 1177.3,1149.7 1182.3,1149.5 1187.3,1149.3 1192.3,1149.0 1197.3,1148.8 1202.3,1148.6 1207.3,1148.3 1212.3,1148.1 1217.2,1147.8 1222.2,1147.6 1227.2,1147.4 1232.2,1147.1 1237.2,1146.9 1242.2,1146.6 1247.2,1146.4 1252.2,1146.1 1257.2,1145.8 1262.2,1145.6 1267.2,1145.3 1272.1,1145.0 1277.1,1144.8 1282.1,1144.5 1287.1,1144.2 1292.1,1144.0 1297.1,1143.7 1302.1,1143.4 1307.1,1143.1 1312.1,1142.8 1317.1,1142.5 1322.0,1142.2 1327.0,1141.9 1332.0,1141.7 1337.0,1141.4 1342.0,1141.1 1347.0,1140.7 1352.0,1140.4 1357.0,1140.1 1362.0,1139.8 1367.0,1139.5 1372.0,1139.2 1376.9,1138.9 1381.9,1138.5 1386.9,1138.2 1391.9,1137.9 1396.9,1137.6 1401.9,1137.2 1406.9,1136.9 1411.9,1136.5 1416.9,1136.2 1421.9,1135.9 1426.9,1135.5 1431.8,1135.2 1436.8,1134.8 1441.8,1134.5 1446.8,1134.1 1451.8,1133.7 1456.8,1133.4 1461.8,1133.0 1466.8,1132.6 1471.8,1132.3 1476.8,1131.9 1481.7,1131.5 1486.7,1131.1 1491.7,1130.7 1496.7,1130.4 1501.7,1130.0 1506.7,1129.6 1511.7,1129.2 1516.7,1128.8 1521.7,1128.4 1526.7,1128.0 1531.7,1127.6 1536.6,1127.2 1541.6,1126.8 1546.6,1126.3 1551.6,1125.9 1556.6,1125.5 1561.6,1125.1 1566.6,1124.7 1571.6,1124.2 1576.6,1123.8 1581.6,1123.4 1586.6,1122.9 1591.5,1122.5 1596.5,1122.1 1601.5,1121.6 1606.5,1121.2 1611.5,1120.7 1616.5,1120.3 1621.5,1119.8 1626.5,1119.4 1631.5,1118.9 1636.5,1118.5 1641.4,1118.0 1646.4,1117.5 1651.4,1117.1 1656.4,1116.6 1661.4,1116.1 1666.4,1115.6 1671.4,1115.2 1676.4,1114.7 1681.4,1114.2 1686.4,1113.7 1691.4,1113.2 1696.3,1112.8 1701.3,1112.3 1706.3,1111.8 1711.3,1111.3 1716.3,1110.8 1721.3,1110.3 1726.3,1109.8 1731.3,1109.3 1736.3,1108.8 1741.3,1108.3 1746.3,1107.8 1751.2,1107.3 1756.2,1106.8 1761.2,1106.3 1766.2,1105.8 1771.2,1105.2 1776.2,1104.7 1781.2,1104.2 1786.2,1103.7 1791.2,1103.2 1796.2,1102.7 1801.1,1102.1 1806.1,1101.6 1811.1,1101.1 1816.1,1100.6 1821.1,1100.1 1826.1,1099.5 1831.1,1099.0 1836.1,1098.5 1841.1,1097.9 1846.1,1097.4 1851.1,1096.9 1856.0,1096.4 1861.0,1095.8 1866.0,1095.3 1871.0,1094.8 1876.0,1094.2 1881.0,1093.7"/>
<path d="M388.8,1170.3 393.8,1170.3 398.8,1170.2 403.8,1170.2 408.8,1170.2 413.8,1170.1 418.7,1170.1 423.7,1170.1 428.7,1170.0 433.7,1170.0 438.7,1170.0 443.7,1169.9 448.7,1169.9 453.7,1169.9 458.7,1169.8 463.7,1169.8 468.7,1169.8 473.6,1169.7 478.6,1169.7 483.6,1169.6 488.6,1169.6 493.6,1169.6 498.6,1169.5 503.6,1169.5 508.6,1169.5 513.6,1169.4 518.6,1169.4 523.5,1169.4 528.5,1169.3 533.5,1169.3 538.5,1169.3 543.5,1169.2 548.5,1169.2 553.5,1169.2 558.5,1169.1 563.5,1169.1 568.5,1169.0 573.5,1169.0 578.4,1169.0 583.4,1168.9 588.4,1168.9 593.4,1168.9 598.4,1168.8 603.4,1168.8 608.4,1168.7 613.4,1168.7 618.4,1168.7 623.4,1168.6 628.4,1168.6 633.3,1168.5 638.3,1168.5 643.3,1168.5 648.3,1168.4 653.3,1168.4 658.3,1168.3 663.3,1168.3 668.3,1168.2 673.3,1168.2 678.3,1168.2 683.2,1168.1 688.2,1168.1 693.2,1168.0 698.2,1168.0 703.2,1167.9 708.2,1167.9 713.2,1167.8 718.2,1167.8 723.2,1167.7 728.2,1167.7 733.2,1167.6 738.1,1167.6 743.1,1167.5 748.1,1167.5 753.1,1167.4 758.1,1167.4 763.1,1167.3 768.1,1167.3 773.1,1167.2 778.1,1167.2 783.1,1167.1 788.1,1167.1 793.0,1167.0 798.0,1167.0 803.0,1166.9 808.0,1166.9 813.0,1166.8 818.0,1166.7 823.0,1166.7 828.0,1166.6 833.0,1166.6 838.0,1166.5 842.9,1166.4 847.9,1166.4 852.9,1166.3 857.9,1166.2 862.9,1166.2 867.9,1166.1 872.9,1166.1 877.9,1166.0 882.9,1165.9 887.9,1165.8 892.9,1165.8 897.8,1165.7 902.8,1165.6 907.8,1165.6 912.8,1165.5 917.8,1165.4 922.8,1165.3 927.8,1165.3 932.8,1165.2 937.8,1165.1 942.8,1165.0 947.8,1164.9 952.7,1164.9 957.7,1164.8 962.7,1164.7 967.7,1164.6 972.7,1164.5 977.7,1164.4 982.7,1164.4 987.7,1164.3 992.7,1164.2 997.7,1164.1 1002.6,1164.0 1007.6,1163.9 1012.6,1163.8 1017.6,1163.7 1022.6,1163.6 1027.6,1163.5 1032.6,1163.4 1037.6,1163.3 1042.6,1163.2 1047.6,1163.1 1052.6,1163.0 1057.5,1162.9 1062.5,1162.8 1067.5,1162.7 1072.5,1162.6 1077.5,1162.4 1082.5,1162.3 1087.5,1162.2 1092.5,1162.1 1097.5,1162.0 1102.5,1161.9 1107.5,1161.7 1112.4,1161.6 1117.4,1161.5 1122.4,1161.4 1127.4,1161.2 1132.4,1161.1 1137.4,1161.0 1142.4,1160.8 1147.4,1160.7 1152.4,1160.6 1157.4,1160.4 1162.3,1160.3 1167.3,1160.1 1172.3,1160.0 1177.3,1159.8 1182.3,1159.7 1187.3,1159.5 1192.3,1159.4 1197.3,1159.2 1202.3,1159.1 1207.3,1158.9 1212.3,1158.8 1217.2,1158.6 1222.2,1158.4 1227.2,1158.3 1232.2,1158.1 1237.2,1157.9 1242.2,1157.7 1247.2,1157.6 1252.2,1157.4 1257.2,1157.2 1262.2,1157.0 1267.2,1156.8 1272.1,1156.6 1277.1,1156.5 1282.1,1156.3 1287.1,1156.1 1292.1,1155.9 1297.1,1155.7 1302.1,1155.5 1307.1,1155.3 1312.1,1155.0 1317.1,1154.8 1322.0,1154.6 1327.0,1154.4 1332.0,1154.2 1337.0,1154.0 1342.0,1153.7 1347.0,1153.5 1352.0,1153.3 1357.0,1153.0 1362.0,1152.8 1367.0,1152.6 1372.0,1152.3 1376.9,1152.1 1381.9,1151.8 1386.9,1151.6 1391.9,1151.3 1396.9,1151.1 1401.9,1150.8 1406.9,1150.5 1411.9,1150.3 1416.9,1150.0 1421.9,1149.7 1426.9,1149.5 1431.8,1149.2 1436.8,1148.9 1441.8,1148.6 1446.8,1148.3 1451.8,1148.0 1456.8,1147.7 1461.8,1147.4 1466.8,1147.1 1471.8,1146.8 1476.8,1146.5 1481.7,1146.2 1486.7,1145.9 1491.7,1145.6 1496.7,1145.3 1501.7,1144.9 1506.7,1144.6 1511.7,1144.3 1516.7,1143.9 1521.7,1143.6 1526.7,1143.3 1531.7,1142.9 1536.6,1142.6 1541.6,1142.2 1546.6,1141.9 1551.6,1141.5 1556.6,1141.2 1561.6,1140.8 1566.6,1140.4 1571.6,1140.1 1576.6,1139.7 1581.6,1139.3 1586.6,1138.9 1591.5,1138.5 1596.5,1138.1 1601.5,1137.8 1606.5,1137.4 1611.5,1137.0 1616.5,1136.6 1621.5,1136.2 1626.5,1135.8 1631.5,1135.4 1636.5,1134.9 1641.4,1134.5 1646.4,1134.1 1651.4,1133.7 1656.4,1133.3 1661.4,1132.8 1666.4,1132.4 1671.4,1132.0 1676.4,1131.6 1681.4,1131.1 1686.4,1130.7 1691.4,1130.3 1696.3,1129.8 1701.3,1129.4 1706.3,1128.9 1711.3,1128.5 1716.3,1128.0 1721.3,1127.6 1726.3,1127.1 1731.3,1126.7 1736.3,1126.2 1741.3,1125.8 1746.3,1125.3 1751.2,1124.9 1756.2,1124.4 1761.2,1124.0 1766.2,1123.5 1771.2,1123.0 1776.2,1122.6 1781.2,1122.1 1786.2,1121.7 1791.2,1121.2 1796.2,1120.8 1801.1,1120.3 1806.1,1119.9 1811.1,1119.4 1816.1,1119.0 1821.1,1118.5 1826.1,1118.1 1831.1,1117.6 1836.1,1117.2 1841.1,1116.8 1846.1,1116.3 1851.1,1115.9 1856.0,1115.5 1861.0,1115.0 1866.0,1114.6 1871.0,1114.2 1876.0,1113.8 1881.0,1113.4"/>
</g>
<g fill="#000">
<rect x="264" y="27" width="1707" height="4"/>
<rect x="264" y="1222" width="1707" height="4"/>
<rect x="264" y="27" width="5" height="1199"/>
<rect x="1967" y="27" width="4" height="1199"/>
</g>
<g stroke="#000" stroke-width="4" stroke-linecap="round">
<line x1="249" y1="1170.8" x2="266" y2="1170.8"/>
<line x1="249" y1="963.2" x2="266" y2="963.2"/>
<line x1="249" y1="755.7" x2="266" y2="755.7"/>
<line x1="249" y1="548.1" x2="266" y2="548.1"/>
<line x1="249" y1="340.6" x2="266" y2="340.6"/>
<line x1="249" y1="133.0" x2="266" y2="133.0"/>
<line x1="684.7" y1="1224" x2="684.7" y2="1241"/>
<line x1="1282.9" y1="1224" x2="1282.9" y2="1241"/>
<line x1="1881.4" y1="1224" x2="1881.4" y2="1241"/>
</g>
<g font-family="Liberation Sans, Arial, sans-serif" font-size="57.5" fill="#000">
<text transform="translate(220.5,1190.8) scale(0.965,1)" text-anchor="end">0</text>
<text transform="translate(220.5,983.2) scale(0.965,1)" text-anchor="end">2</text>
<text transform="translate(220.5,775.7) scale(0.965,1)" text-anchor="end">4</text>
<text transform="translate(220.5,568.1) scale(0.965,1)" text-anchor="end">6</text>
<text transform="translate(220.5,360.6) scale(0.965,1)" text-anchor="end">8</text>
<text transform="translate(220.5,153.0) scale(0.965,1)" text-anchor="end">10</text>
<text transform="translate(685.2,1320) scale(0.965,1)" text-anchor="middle">10</text>
<text transform="translate(1283.4,1320) scale(0.965,1)" text-anchor="middle">100</text>
<text transform="translate(1881.9,1320) scale(0.965,1)" text-anchor="middle">1000</text>
</g>
<text x="1116.3" y="1435" text-anchor="middle" font-family="Liberation Sans, Arial, sans-serif" font-size="67" letter-spacing="-0.62">Frequency (Hz)</text>
<g transform="translate(82,843) rotate(-90)" font-family="Liberation Sans, Arial, sans-serif" font-size="67">
<text transform="scale(0.9,1.03)" font-family="Noto Serif CJK SC, serif" font-size="64">χ</text>
<text x="34.8" y="21" font-size="45">M</text>
<text transform="translate(70,7.9) scale(1.1,1.22)">''</text>
<text x="114.6" y="0">(cm</text>
<text x="225.3" y="-34" font-size="44">3</text>
<text x="266" y="0">mol</text>
<text x="373.2" y="-34" font-size="44">-1</text>
<text x="412.5" y="0">)</text>
</g>
<rect x="2017.3" y="205.2" width="310.5" height="903" fill="none" stroke="#000" stroke-width="4.4"/>
<circle cx="2104.7" cy="264.9" r="16.5" fill="#000000"/>
<circle cx="2104.7" cy="317.1" r="16.5" fill="#ff0000"/>
<path d="M2088.8,360.5H2120.6L2104.7,388.9Z" fill="#00ff00" stroke="#00ff00" stroke-width="1.2" stroke-linejoin="round"/>
<path d="M2088.8,431.7H2120.6L2104.7,403.3Z" fill="#ffff00" stroke="#ffff00" stroke-width="1.2" stroke-linejoin="round"/>
<rect x="2089.7" y="459.1" width="30" height="29.2" rx="2" fill="#0000ff"/>
<rect x="2089.7" y="511.3" width="30" height="29.2" rx="2" fill="#ff00ff"/>
<path d="M2104.7,559.5L2123.3,578.1L2104.7,596.7L2086.1,578.1Z" fill="#00ffff" stroke="#00ffff" stroke-width="1.2" stroke-linejoin="round"/>
<path d="M2104.7,611.7L2123.3,630.3L2104.7,648.9L2086.1,630.3Z" fill="#d3d3d3" stroke="#d3d3d3" stroke-width="1.2" stroke-linejoin="round"/>
<path d="M2088.8,692.7H2120.6L2104.7,664.3Z" fill="#960000" stroke="#960000" stroke-width="1.2" stroke-linejoin="round"/>
<path d="M2088.8,725.9H2120.6L2104.7,754.3Z" fill="#008000" stroke="#008000" stroke-width="1.2" stroke-linejoin="round"/>
<path d="M2104.7,769.6L2119.8,778.2L2119.8,795.5L2104.7,804.2L2089.6,795.5L2089.6,778.2Z" fill="#808000"/>
<path d="M2104.7,821.8L2119.8,830.5L2119.8,847.8L2104.7,856.4L2089.6,847.8L2089.6,830.5Z" fill="#000080"/>
<circle cx="2104.7" cy="891.3" r="16.5" fill="#930085"/>
<circle cx="2104.7" cy="943.5" r="16.5" fill="#008080"/>
<path d="M2088.8,986.9H2120.6L2104.7,1015.3Z" fill="#a0a0a0" stroke="#a0a0a0" stroke-width="1.2" stroke-linejoin="round"/>
<g font-family="Liberation Sans, Arial, sans-serif" font-size="51" fill="#000">
<text transform="translate(2184,282.2) scale(0.945,1)">1.9 K</text>
<text transform="translate(2184,334.4) scale(0.945,1)">2.2 K</text>
<text transform="translate(2184,386.6) scale(0.945,1)">2.5 K</text>
<text transform="translate(2184,438.8) scale(0.945,1)">3 K</text>
<text transform="translate(2184,491.0) scale(0.945,1)">3.5 K</text>
<text transform="translate(2184,543.2) scale(0.945,1)">4 K</text>
<text transform="translate(2184,595.4) scale(0.945,1)">5 K</text>
<text transform="translate(2184,647.6) scale(0.945,1)">6 K</text>
<text transform="translate(2184,699.8) scale(0.945,1)">7 K</text>
<text transform="translate(2184,752.0) scale(0.945,1)">8 K</text>
<text transform="translate(2184,804.2) scale(0.945,1)">9 K</text>
<text transform="translate(2184,856.4) scale(0.945,1)">10 K</text>
<text transform="translate(2184,908.6) scale(0.945,1)">11 K</text>
<text transform="translate(2184,960.8) scale(0.945,1)">12 K</text>
<text transform="translate(2184,1013.0) scale(0.945,1)">13 K</text>
<text transform="translate(2184,1065.2) scale(0.945,0.9)">fit</text>
</g>
<line x1="2051" y1="1047.9" x2="2158" y2="1047.9" stroke="#000" stroke-width="7" stroke-linecap="round"/>
</svg>
</body></html>
